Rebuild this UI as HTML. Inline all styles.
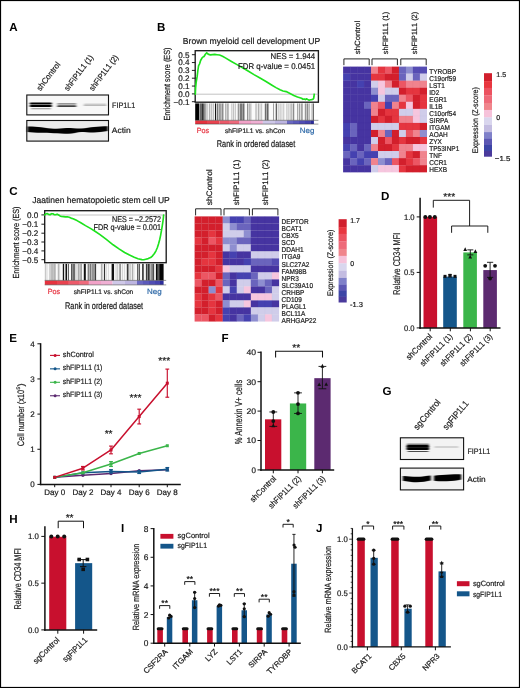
<!DOCTYPE html>
<html><head><meta charset="utf-8"><title>Figure</title>
<style>
html,body{margin:0;padding:0;background:#fff;}
svg{display:block;will-change:transform;}
text{font-family:"Liberation Sans",sans-serif;stroke-width:0.2px;text-rendering:geometricPrecision;}
</style></head>
<body>
<svg width="520" height="688" viewBox="0 0 520 688">
<rect x="0.50" y="0.50" width="519.00" height="687.00" fill="#fff" stroke="#000" stroke-width="1.2"/>
<text x="9.3" y="31.2" font-size="11.6" font-weight="bold" fill="#000">A</text>
<text x="157.0" y="31.2" font-size="11.6" font-weight="bold" fill="#000">B</text>
<text x="9.3" y="194.5" font-size="11.6" font-weight="bold" fill="#000">C</text>
<text x="380.9" y="199.89999999999998" font-size="11.6" font-weight="bold" fill="#000">D</text>
<text x="9.3" y="342.0" font-size="11.6" font-weight="bold" fill="#000">E</text>
<text x="221.5" y="342.09999999999997" font-size="11.6" font-weight="bold" fill="#000">F</text>
<text x="382.5" y="395.09999999999997" font-size="11.6" font-weight="bold" fill="#000">G</text>
<text x="9.3" y="523.1" font-size="11.6" font-weight="bold" fill="#000">H</text>
<text x="120.9" y="531.5" font-size="11.6" font-weight="bold" fill="#000">I</text>
<text x="316.09999999999997" y="531.5" font-size="11.6" font-weight="bold" fill="#000">J</text>
<rect x="343.10" y="66.60" width="7.13" height="7.19" fill="#4634a1"/>
<rect x="350.08" y="66.60" width="7.13" height="7.19" fill="#4634a1"/>
<rect x="357.06" y="66.60" width="7.13" height="7.19" fill="#4634a1"/>
<rect x="364.04" y="66.60" width="7.13" height="7.19" fill="#4634a1"/>
<rect x="371.02" y="66.60" width="7.13" height="7.19" fill="#f0838e"/>
<rect x="378.00" y="66.60" width="7.13" height="7.19" fill="#e5353f"/>
<rect x="384.98" y="66.60" width="7.13" height="7.19" fill="#ec5663"/>
<rect x="391.96" y="66.60" width="7.13" height="7.19" fill="#d31f2c"/>
<rect x="398.94" y="66.60" width="7.13" height="7.19" fill="#6a64bd"/>
<rect x="405.92" y="66.60" width="7.13" height="7.19" fill="#8e8ed0"/>
<rect x="412.90" y="66.60" width="7.13" height="7.19" fill="#554cb3"/>
<rect x="419.88" y="66.60" width="7.13" height="7.19" fill="#554cb3"/>
<rect x="343.10" y="73.64" width="7.13" height="7.19" fill="#4541b0"/>
<rect x="350.08" y="73.64" width="7.13" height="7.19" fill="#4634a1"/>
<rect x="357.06" y="73.64" width="7.13" height="7.19" fill="#4634a1"/>
<rect x="364.04" y="73.64" width="7.13" height="7.19" fill="#4634a1"/>
<rect x="371.02" y="73.64" width="7.13" height="7.19" fill="#e5353f"/>
<rect x="378.00" y="73.64" width="7.13" height="7.19" fill="#e5353f"/>
<rect x="384.98" y="73.64" width="7.13" height="7.19" fill="#d31f2c"/>
<rect x="391.96" y="73.64" width="7.13" height="7.19" fill="#d31f2c"/>
<rect x="398.94" y="73.64" width="7.13" height="7.19" fill="#6a64bd"/>
<rect x="405.92" y="73.64" width="7.13" height="7.19" fill="#d0cdea"/>
<rect x="412.90" y="73.64" width="7.13" height="7.19" fill="#6a64bd"/>
<rect x="419.88" y="73.64" width="7.13" height="7.19" fill="#d0cdea"/>
<rect x="343.10" y="80.68" width="7.13" height="7.19" fill="#4634a1"/>
<rect x="350.08" y="80.68" width="7.13" height="7.19" fill="#4634a1"/>
<rect x="357.06" y="80.68" width="7.13" height="7.19" fill="#4541b0"/>
<rect x="364.04" y="80.68" width="7.13" height="7.19" fill="#4634a1"/>
<rect x="371.02" y="80.68" width="7.13" height="7.19" fill="#d0cdea"/>
<rect x="378.00" y="80.68" width="7.13" height="7.19" fill="#f6c6de"/>
<rect x="384.98" y="80.68" width="7.13" height="7.19" fill="#f0838e"/>
<rect x="391.96" y="80.68" width="7.13" height="7.19" fill="#d31f2c"/>
<rect x="398.94" y="80.68" width="7.13" height="7.19" fill="#ec5663"/>
<rect x="405.92" y="80.68" width="7.13" height="7.19" fill="#f0838e"/>
<rect x="412.90" y="80.68" width="7.13" height="7.19" fill="#f0838e"/>
<rect x="419.88" y="80.68" width="7.13" height="7.19" fill="#f0838e"/>
<rect x="343.10" y="87.72" width="7.13" height="7.19" fill="#4634a1"/>
<rect x="350.08" y="87.72" width="7.13" height="7.19" fill="#4634a1"/>
<rect x="357.06" y="87.72" width="7.13" height="7.19" fill="#4634a1"/>
<rect x="364.04" y="87.72" width="7.13" height="7.19" fill="#4634a1"/>
<rect x="371.02" y="87.72" width="7.13" height="7.19" fill="#8e8ed0"/>
<rect x="378.00" y="87.72" width="7.13" height="7.19" fill="#f6c6de"/>
<rect x="384.98" y="87.72" width="7.13" height="7.19" fill="#d0cdea"/>
<rect x="391.96" y="87.72" width="7.13" height="7.19" fill="#d0cdea"/>
<rect x="398.94" y="87.72" width="7.13" height="7.19" fill="#d31f2c"/>
<rect x="405.92" y="87.72" width="7.13" height="7.19" fill="#e5353f"/>
<rect x="412.90" y="87.72" width="7.13" height="7.19" fill="#e5353f"/>
<rect x="419.88" y="87.72" width="7.13" height="7.19" fill="#d31f2c"/>
<rect x="343.10" y="94.76" width="7.13" height="7.19" fill="#4634a1"/>
<rect x="350.08" y="94.76" width="7.13" height="7.19" fill="#4634a1"/>
<rect x="357.06" y="94.76" width="7.13" height="7.19" fill="#4634a1"/>
<rect x="364.04" y="94.76" width="7.13" height="7.19" fill="#4634a1"/>
<rect x="371.02" y="94.76" width="7.13" height="7.19" fill="#4541b0"/>
<rect x="378.00" y="94.76" width="7.13" height="7.19" fill="#d0cdea"/>
<rect x="384.98" y="94.76" width="7.13" height="7.19" fill="#6a64bd"/>
<rect x="391.96" y="94.76" width="7.13" height="7.19" fill="#6a64bd"/>
<rect x="398.94" y="94.76" width="7.13" height="7.19" fill="#f0838e"/>
<rect x="405.92" y="94.76" width="7.13" height="7.19" fill="#ec5663"/>
<rect x="412.90" y="94.76" width="7.13" height="7.19" fill="#d31f2c"/>
<rect x="419.88" y="94.76" width="7.13" height="7.19" fill="#e5353f"/>
<rect x="343.10" y="101.80" width="7.13" height="7.19" fill="#4634a1"/>
<rect x="350.08" y="101.80" width="7.13" height="7.19" fill="#4634a1"/>
<rect x="357.06" y="101.80" width="7.13" height="7.19" fill="#4634a1"/>
<rect x="364.04" y="101.80" width="7.13" height="7.19" fill="#6a64bd"/>
<rect x="371.02" y="101.80" width="7.13" height="7.19" fill="#f0838e"/>
<rect x="378.00" y="101.80" width="7.13" height="7.19" fill="#ec5663"/>
<rect x="384.98" y="101.80" width="7.13" height="7.19" fill="#4541b0"/>
<rect x="391.96" y="101.80" width="7.13" height="7.19" fill="#f0838e"/>
<rect x="398.94" y="101.80" width="7.13" height="7.19" fill="#e5353f"/>
<rect x="405.92" y="101.80" width="7.13" height="7.19" fill="#f6c6de"/>
<rect x="412.90" y="101.80" width="7.13" height="7.19" fill="#d31f2c"/>
<rect x="419.88" y="101.80" width="7.13" height="7.19" fill="#e5353f"/>
<rect x="343.10" y="108.84" width="7.13" height="7.19" fill="#4634a1"/>
<rect x="350.08" y="108.84" width="7.13" height="7.19" fill="#4634a1"/>
<rect x="357.06" y="108.84" width="7.13" height="7.19" fill="#4634a1"/>
<rect x="364.04" y="108.84" width="7.13" height="7.19" fill="#4634a1"/>
<rect x="371.02" y="108.84" width="7.13" height="7.19" fill="#f0838e"/>
<rect x="378.00" y="108.84" width="7.13" height="7.19" fill="#d31f2c"/>
<rect x="384.98" y="108.84" width="7.13" height="7.19" fill="#e5353f"/>
<rect x="391.96" y="108.84" width="7.13" height="7.19" fill="#e5353f"/>
<rect x="398.94" y="108.84" width="7.13" height="7.19" fill="#d0cdea"/>
<rect x="405.92" y="108.84" width="7.13" height="7.19" fill="#d0cdea"/>
<rect x="412.90" y="108.84" width="7.13" height="7.19" fill="#f6c6de"/>
<rect x="419.88" y="108.84" width="7.13" height="7.19" fill="#d0cdea"/>
<rect x="343.10" y="115.88" width="7.13" height="7.19" fill="#4634a1"/>
<rect x="350.08" y="115.88" width="7.13" height="7.19" fill="#4634a1"/>
<rect x="357.06" y="115.88" width="7.13" height="7.19" fill="#4634a1"/>
<rect x="364.04" y="115.88" width="7.13" height="7.19" fill="#4634a1"/>
<rect x="371.02" y="115.88" width="7.13" height="7.19" fill="#d31f2c"/>
<rect x="378.00" y="115.88" width="7.13" height="7.19" fill="#e5353f"/>
<rect x="384.98" y="115.88" width="7.13" height="7.19" fill="#d31f2c"/>
<rect x="391.96" y="115.88" width="7.13" height="7.19" fill="#e5353f"/>
<rect x="398.94" y="115.88" width="7.13" height="7.19" fill="#f0838e"/>
<rect x="405.92" y="115.88" width="7.13" height="7.19" fill="#f0838e"/>
<rect x="412.90" y="115.88" width="7.13" height="7.19" fill="#f6c6de"/>
<rect x="419.88" y="115.88" width="7.13" height="7.19" fill="#d0cdea"/>
<rect x="343.10" y="122.92" width="7.13" height="7.19" fill="#4541b0"/>
<rect x="350.08" y="122.92" width="7.13" height="7.19" fill="#6a64bd"/>
<rect x="357.06" y="122.92" width="7.13" height="7.19" fill="#4634a1"/>
<rect x="364.04" y="122.92" width="7.13" height="7.19" fill="#4634a1"/>
<rect x="371.02" y="122.92" width="7.13" height="7.19" fill="#d0cdea"/>
<rect x="378.00" y="122.92" width="7.13" height="7.19" fill="#d0cdea"/>
<rect x="384.98" y="122.92" width="7.13" height="7.19" fill="#d0cdea"/>
<rect x="391.96" y="122.92" width="7.13" height="7.19" fill="#d0cdea"/>
<rect x="398.94" y="122.92" width="7.13" height="7.19" fill="#e5353f"/>
<rect x="405.92" y="122.92" width="7.13" height="7.19" fill="#e5353f"/>
<rect x="412.90" y="122.92" width="7.13" height="7.19" fill="#e5353f"/>
<rect x="419.88" y="122.92" width="7.13" height="7.19" fill="#d31f2c"/>
<rect x="343.10" y="129.96" width="7.13" height="7.19" fill="#4541b0"/>
<rect x="350.08" y="129.96" width="7.13" height="7.19" fill="#6a64bd"/>
<rect x="357.06" y="129.96" width="7.13" height="7.19" fill="#4634a1"/>
<rect x="364.04" y="129.96" width="7.13" height="7.19" fill="#4634a1"/>
<rect x="371.02" y="129.96" width="7.13" height="7.19" fill="#d31f2c"/>
<rect x="378.00" y="129.96" width="7.13" height="7.19" fill="#f0838e"/>
<rect x="384.98" y="129.96" width="7.13" height="7.19" fill="#6a64bd"/>
<rect x="391.96" y="129.96" width="7.13" height="7.19" fill="#d31f2c"/>
<rect x="398.94" y="129.96" width="7.13" height="7.19" fill="#d0cdea"/>
<rect x="405.92" y="129.96" width="7.13" height="7.19" fill="#ec5663"/>
<rect x="412.90" y="129.96" width="7.13" height="7.19" fill="#f0838e"/>
<rect x="419.88" y="129.96" width="7.13" height="7.19" fill="#8e8ed0"/>
<rect x="343.10" y="137.00" width="7.13" height="7.19" fill="#4634a1"/>
<rect x="350.08" y="137.00" width="7.13" height="7.19" fill="#4634a1"/>
<rect x="357.06" y="137.00" width="7.13" height="7.19" fill="#4634a1"/>
<rect x="364.04" y="137.00" width="7.13" height="7.19" fill="#4634a1"/>
<rect x="371.02" y="137.00" width="7.13" height="7.19" fill="#d0cdea"/>
<rect x="378.00" y="137.00" width="7.13" height="7.19" fill="#d31f2c"/>
<rect x="384.98" y="137.00" width="7.13" height="7.19" fill="#ec5663"/>
<rect x="391.96" y="137.00" width="7.13" height="7.19" fill="#d31f2c"/>
<rect x="398.94" y="137.00" width="7.13" height="7.19" fill="#e5353f"/>
<rect x="405.92" y="137.00" width="7.13" height="7.19" fill="#d31f2c"/>
<rect x="412.90" y="137.00" width="7.13" height="7.19" fill="#d31f2c"/>
<rect x="419.88" y="137.00" width="7.13" height="7.19" fill="#e5353f"/>
<rect x="343.10" y="144.04" width="7.13" height="7.19" fill="#4541b0"/>
<rect x="350.08" y="144.04" width="7.13" height="7.19" fill="#6a64bd"/>
<rect x="357.06" y="144.04" width="7.13" height="7.19" fill="#4634a1"/>
<rect x="364.04" y="144.04" width="7.13" height="7.19" fill="#6a64bd"/>
<rect x="371.02" y="144.04" width="7.13" height="7.19" fill="#f0838e"/>
<rect x="378.00" y="144.04" width="7.13" height="7.19" fill="#d31f2c"/>
<rect x="384.98" y="144.04" width="7.13" height="7.19" fill="#d31f2c"/>
<rect x="391.96" y="144.04" width="7.13" height="7.19" fill="#e5353f"/>
<rect x="398.94" y="144.04" width="7.13" height="7.19" fill="#f0838e"/>
<rect x="405.92" y="144.04" width="7.13" height="7.19" fill="#f0838e"/>
<rect x="412.90" y="144.04" width="7.13" height="7.19" fill="#f6c6de"/>
<rect x="419.88" y="144.04" width="7.13" height="7.19" fill="#f6c6de"/>
<rect x="343.10" y="151.08" width="7.13" height="7.19" fill="#6a64bd"/>
<rect x="350.08" y="151.08" width="7.13" height="7.19" fill="#4541b0"/>
<rect x="357.06" y="151.08" width="7.13" height="7.19" fill="#6a64bd"/>
<rect x="364.04" y="151.08" width="7.13" height="7.19" fill="#4541b0"/>
<rect x="371.02" y="151.08" width="7.13" height="7.19" fill="#4541b0"/>
<rect x="378.00" y="151.08" width="7.13" height="7.19" fill="#d0cdea"/>
<rect x="384.98" y="151.08" width="7.13" height="7.19" fill="#d0cdea"/>
<rect x="391.96" y="151.08" width="7.13" height="7.19" fill="#d0cdea"/>
<rect x="398.94" y="151.08" width="7.13" height="7.19" fill="#f0838e"/>
<rect x="405.92" y="151.08" width="7.13" height="7.19" fill="#e5353f"/>
<rect x="412.90" y="151.08" width="7.13" height="7.19" fill="#d31f2c"/>
<rect x="419.88" y="151.08" width="7.13" height="7.19" fill="#f0838e"/>
<rect x="343.10" y="158.12" width="7.13" height="7.19" fill="#4634a1"/>
<rect x="350.08" y="158.12" width="7.13" height="7.19" fill="#6a64bd"/>
<rect x="357.06" y="158.12" width="7.13" height="7.19" fill="#4541b0"/>
<rect x="364.04" y="158.12" width="7.13" height="7.19" fill="#6a64bd"/>
<rect x="371.02" y="158.12" width="7.13" height="7.19" fill="#f0838e"/>
<rect x="378.00" y="158.12" width="7.13" height="7.19" fill="#8e8ed0"/>
<rect x="384.98" y="158.12" width="7.13" height="7.19" fill="#6a64bd"/>
<rect x="391.96" y="158.12" width="7.13" height="7.19" fill="#ec5663"/>
<rect x="398.94" y="158.12" width="7.13" height="7.19" fill="#d31f2c"/>
<rect x="405.92" y="158.12" width="7.13" height="7.19" fill="#e5353f"/>
<rect x="412.90" y="158.12" width="7.13" height="7.19" fill="#ec5663"/>
<rect x="419.88" y="158.12" width="7.13" height="7.19" fill="#f0838e"/>
<rect x="343.10" y="165.16" width="7.13" height="7.19" fill="#4634a1"/>
<rect x="350.08" y="165.16" width="7.13" height="7.19" fill="#4634a1"/>
<rect x="357.06" y="165.16" width="7.13" height="7.19" fill="#4634a1"/>
<rect x="364.04" y="165.16" width="7.13" height="7.19" fill="#4634a1"/>
<rect x="371.02" y="165.16" width="7.13" height="7.19" fill="#d0cdea"/>
<rect x="378.00" y="165.16" width="7.13" height="7.19" fill="#f6c6de"/>
<rect x="384.98" y="165.16" width="7.13" height="7.19" fill="#f6c6de"/>
<rect x="391.96" y="165.16" width="7.13" height="7.19" fill="#f6c6de"/>
<rect x="398.94" y="165.16" width="7.13" height="7.19" fill="#e5353f"/>
<rect x="405.92" y="165.16" width="7.13" height="7.19" fill="#d31f2c"/>
<rect x="412.90" y="165.16" width="7.13" height="7.19" fill="#d31f2c"/>
<rect x="419.88" y="165.16" width="7.13" height="7.19" fill="#d31f2c"/>
<line x1="350.08" y1="66.6" x2="350.08" y2="172.2" stroke="#30206a" stroke-width="0.3" opacity="0.08"/>
<line x1="357.06" y1="66.6" x2="357.06" y2="172.2" stroke="#30206a" stroke-width="0.3" opacity="0.08"/>
<line x1="364.04" y1="66.6" x2="364.04" y2="172.2" stroke="#30206a" stroke-width="0.3" opacity="0.08"/>
<line x1="371.02" y1="66.6" x2="371.02" y2="172.2" stroke="#30206a" stroke-width="0.3" opacity="0.08"/>
<line x1="378.00" y1="66.6" x2="378.00" y2="172.2" stroke="#30206a" stroke-width="0.3" opacity="0.08"/>
<line x1="384.98" y1="66.6" x2="384.98" y2="172.2" stroke="#30206a" stroke-width="0.3" opacity="0.08"/>
<line x1="391.96" y1="66.6" x2="391.96" y2="172.2" stroke="#30206a" stroke-width="0.3" opacity="0.08"/>
<line x1="398.94" y1="66.6" x2="398.94" y2="172.2" stroke="#30206a" stroke-width="0.3" opacity="0.08"/>
<line x1="405.92" y1="66.6" x2="405.92" y2="172.2" stroke="#30206a" stroke-width="0.3" opacity="0.08"/>
<line x1="412.90" y1="66.6" x2="412.90" y2="172.2" stroke="#30206a" stroke-width="0.3" opacity="0.08"/>
<line x1="419.88" y1="66.6" x2="419.88" y2="172.2" stroke="#30206a" stroke-width="0.3" opacity="0.08"/>
<line x1="343.1" y1="73.64" x2="426.86" y2="73.64" stroke="#30206a" stroke-width="0.3" opacity="0.08"/>
<line x1="343.1" y1="80.68" x2="426.86" y2="80.68" stroke="#30206a" stroke-width="0.3" opacity="0.08"/>
<line x1="343.1" y1="87.72" x2="426.86" y2="87.72" stroke="#30206a" stroke-width="0.3" opacity="0.08"/>
<line x1="343.1" y1="94.76" x2="426.86" y2="94.76" stroke="#30206a" stroke-width="0.3" opacity="0.08"/>
<line x1="343.1" y1="101.80" x2="426.86" y2="101.80" stroke="#30206a" stroke-width="0.3" opacity="0.08"/>
<line x1="343.1" y1="108.84" x2="426.86" y2="108.84" stroke="#30206a" stroke-width="0.3" opacity="0.08"/>
<line x1="343.1" y1="115.88" x2="426.86" y2="115.88" stroke="#30206a" stroke-width="0.3" opacity="0.08"/>
<line x1="343.1" y1="122.92" x2="426.86" y2="122.92" stroke="#30206a" stroke-width="0.3" opacity="0.08"/>
<line x1="343.1" y1="129.96" x2="426.86" y2="129.96" stroke="#30206a" stroke-width="0.3" opacity="0.08"/>
<line x1="343.1" y1="137.00" x2="426.86" y2="137.00" stroke="#30206a" stroke-width="0.3" opacity="0.08"/>
<line x1="343.1" y1="144.04" x2="426.86" y2="144.04" stroke="#30206a" stroke-width="0.3" opacity="0.08"/>
<line x1="343.1" y1="151.08" x2="426.86" y2="151.08" stroke="#30206a" stroke-width="0.3" opacity="0.08"/>
<line x1="343.1" y1="158.12" x2="426.86" y2="158.12" stroke="#30206a" stroke-width="0.3" opacity="0.08"/>
<line x1="343.1" y1="165.16" x2="426.86" y2="165.16" stroke="#30206a" stroke-width="0.3" opacity="0.08"/>
<path d="M343.9 65.2 V58.9 H369.2 V65.2" stroke="#111" stroke-width="0.9" fill="none"/>
<path d="M372 65.2 V58.9 H397.4 V65.2" stroke="#111" stroke-width="0.9" fill="none"/>
<path d="M400.8 65.2 V58.9 H426.2 V65.2" stroke="#111" stroke-width="0.9" fill="none"/>
<text x="429.3" y="73.6" font-size="7.1" textLength="26.7" lengthAdjust="spacingAndGlyphs" fill="#1a1a1a" stroke="#1a1a1a">TYROBP</text>
<text x="429.3" y="80.63" font-size="7.1" textLength="26.7" lengthAdjust="spacingAndGlyphs" fill="#1a1a1a" stroke="#1a1a1a">C19orf59</text>
<text x="429.3" y="87.66" font-size="7.1" textLength="15.5" lengthAdjust="spacingAndGlyphs" fill="#1a1a1a" stroke="#1a1a1a">LST1</text>
<text x="429.3" y="94.69" font-size="7.1" textLength="10.1" lengthAdjust="spacingAndGlyphs" fill="#1a1a1a" stroke="#1a1a1a">ID2</text>
<text x="429.3" y="101.72" font-size="7.1" textLength="17.7" lengthAdjust="spacingAndGlyphs" fill="#1a1a1a" stroke="#1a1a1a">EGR1</text>
<text x="429.3" y="108.75" font-size="7.1" textLength="13.4" lengthAdjust="spacingAndGlyphs" fill="#1a1a1a" stroke="#1a1a1a">IL1B</text>
<text x="429.3" y="115.78" font-size="7.1" textLength="26.7" lengthAdjust="spacingAndGlyphs" fill="#1a1a1a" stroke="#1a1a1a">C10orf54</text>
<text x="429.3" y="122.81" font-size="7.1" textLength="19.0" lengthAdjust="spacingAndGlyphs" fill="#1a1a1a" stroke="#1a1a1a">SIRPA</text>
<text x="429.3" y="129.84" font-size="7.1" textLength="20.6" lengthAdjust="spacingAndGlyphs" fill="#1a1a1a" stroke="#1a1a1a">ITGAM</text>
<text x="429.3" y="136.87" font-size="7.1" textLength="18.4" lengthAdjust="spacingAndGlyphs" fill="#1a1a1a" stroke="#1a1a1a">AOAH</text>
<text x="429.3" y="143.9" font-size="7.1" textLength="12.6" lengthAdjust="spacingAndGlyphs" fill="#1a1a1a" stroke="#1a1a1a">ZYX</text>
<text x="429.3" y="150.93" font-size="7.1" textLength="30.0" lengthAdjust="spacingAndGlyphs" fill="#1a1a1a" stroke="#1a1a1a">TP53INP1</text>
<text x="429.3" y="157.96" font-size="7.1" textLength="12.6" lengthAdjust="spacingAndGlyphs" fill="#1a1a1a" stroke="#1a1a1a">TNF</text>
<text x="429.3" y="164.99" font-size="7.1" textLength="17.7" lengthAdjust="spacingAndGlyphs" fill="#1a1a1a" stroke="#1a1a1a">CCR1</text>
<text x="429.3" y="172.02" font-size="7.1" textLength="17.7" lengthAdjust="spacingAndGlyphs" fill="#1a1a1a" stroke="#1a1a1a">HEXB</text>
<text x="360.3" y="54.2" font-size="7.6" textLength="33.4" lengthAdjust="spacingAndGlyphs" transform="rotate(-90 360.3 54.2)" fill="#1a1a1a" stroke="#1a1a1a" stroke-width="0.08">shControl</text>
<text x="388.0" y="54.2" font-size="7.6" textLength="42.3" lengthAdjust="spacingAndGlyphs" transform="rotate(-90 388.0 54.2)" fill="#1a1a1a" stroke="#1a1a1a" stroke-width="0.08">shFIP1L1 (1)</text>
<text x="416.8" y="54.2" font-size="7.6" textLength="42.3" lengthAdjust="spacingAndGlyphs" transform="rotate(-90 416.8 54.2)" fill="#1a1a1a" stroke="#1a1a1a" stroke-width="0.08">shFIP1L1 (2)</text>
<rect x="484.00" y="73.20" width="8.00" height="8.11" fill="#d11f2d"/>
<rect x="484.00" y="81.11" width="8.00" height="6.95" fill="#e8363f"/>
<rect x="484.00" y="87.86" width="8.00" height="7.70" fill="#ec5260"/>
<rect x="484.00" y="95.36" width="8.00" height="7.78" fill="#ee6a79"/>
<rect x="484.00" y="102.94" width="8.00" height="7.20" fill="#f0858c"/>
<rect x="484.00" y="109.94" width="8.00" height="7.70" fill="#f6c2da"/>
<rect x="484.00" y="117.43" width="8.00" height="7.78" fill="#d9d6ee"/>
<rect x="484.00" y="125.01" width="8.00" height="7.28" fill="#c3bce1"/>
<rect x="484.00" y="132.09" width="8.00" height="6.95" fill="#7f80c9"/>
<rect x="484.00" y="138.84" width="8.00" height="6.36" fill="#5c57b3"/>
<rect x="484.00" y="145.00" width="8.00" height="6.11" fill="#3c45a6"/>
<rect x="484.00" y="150.92" width="8.00" height="5.78" fill="#4a3a9c"/>
<text x="496.3" y="76.9" font-size="7" fill="#1a1a1a" stroke="#1a1a1a">1.5</text>
<text x="496.3" y="119.8" font-size="7" fill="#1a1a1a" stroke="#1a1a1a">0</text>
<text x="494.8" y="160.8" font-size="7.2" textLength="15.6" lengthAdjust="spacingAndGlyphs" fill="#1a1a1a" stroke="#1a1a1a">−1.5</text>
<text x="478.1" y="153.3" font-size="8.1" textLength="66.2" lengthAdjust="spacingAndGlyphs" transform="rotate(-90 478.1 153.3)" fill="#161616" stroke="#161616" stroke-width="0.1">Expression (Z-score)</text>
<rect x="194.60" y="216.40" width="7.18" height="7.15" fill="#d31f2c"/>
<rect x="201.63" y="216.40" width="7.18" height="7.15" fill="#d31f2c"/>
<rect x="208.66" y="216.40" width="7.18" height="7.15" fill="#d31f2c"/>
<rect x="215.69" y="216.40" width="7.18" height="7.15" fill="#d31f2c"/>
<rect x="222.72" y="216.40" width="7.18" height="7.15" fill="#8e8ed0"/>
<rect x="229.75" y="216.40" width="7.18" height="7.15" fill="#4541b0"/>
<rect x="236.78" y="216.40" width="7.18" height="7.15" fill="#4541b0"/>
<rect x="243.81" y="216.40" width="7.18" height="7.15" fill="#6a64bd"/>
<rect x="250.84" y="216.40" width="7.18" height="7.15" fill="#4634a1"/>
<rect x="257.87" y="216.40" width="7.18" height="7.15" fill="#4634a1"/>
<rect x="264.90" y="216.40" width="7.18" height="7.15" fill="#4634a1"/>
<rect x="271.93" y="216.40" width="7.18" height="7.15" fill="#4634a1"/>
<rect x="194.60" y="223.40" width="7.18" height="7.15" fill="#d31f2c"/>
<rect x="201.63" y="223.40" width="7.18" height="7.15" fill="#d31f2c"/>
<rect x="208.66" y="223.40" width="7.18" height="7.15" fill="#d31f2c"/>
<rect x="215.69" y="223.40" width="7.18" height="7.15" fill="#d31f2c"/>
<rect x="222.72" y="223.40" width="7.18" height="7.15" fill="#d0cdea"/>
<rect x="229.75" y="223.40" width="7.18" height="7.15" fill="#8e8ed0"/>
<rect x="236.78" y="223.40" width="7.18" height="7.15" fill="#6a64bd"/>
<rect x="243.81" y="223.40" width="7.18" height="7.15" fill="#6a64bd"/>
<rect x="250.84" y="223.40" width="7.18" height="7.15" fill="#4634a1"/>
<rect x="257.87" y="223.40" width="7.18" height="7.15" fill="#4634a1"/>
<rect x="264.90" y="223.40" width="7.18" height="7.15" fill="#4634a1"/>
<rect x="271.93" y="223.40" width="7.18" height="7.15" fill="#4634a1"/>
<rect x="194.60" y="230.40" width="7.18" height="7.15" fill="#d31f2c"/>
<rect x="201.63" y="230.40" width="7.18" height="7.15" fill="#d31f2c"/>
<rect x="208.66" y="230.40" width="7.18" height="7.15" fill="#e5353f"/>
<rect x="215.69" y="230.40" width="7.18" height="7.15" fill="#d31f2c"/>
<rect x="222.72" y="230.40" width="7.18" height="7.15" fill="#d0cdea"/>
<rect x="229.75" y="230.40" width="7.18" height="7.15" fill="#d0cdea"/>
<rect x="236.78" y="230.40" width="7.18" height="7.15" fill="#d0cdea"/>
<rect x="243.81" y="230.40" width="7.18" height="7.15" fill="#8e8ed0"/>
<rect x="250.84" y="230.40" width="7.18" height="7.15" fill="#4634a1"/>
<rect x="257.87" y="230.40" width="7.18" height="7.15" fill="#4634a1"/>
<rect x="264.90" y="230.40" width="7.18" height="7.15" fill="#4634a1"/>
<rect x="271.93" y="230.40" width="7.18" height="7.15" fill="#4634a1"/>
<rect x="194.60" y="237.40" width="7.18" height="7.15" fill="#e5353f"/>
<rect x="201.63" y="237.40" width="7.18" height="7.15" fill="#d31f2c"/>
<rect x="208.66" y="237.40" width="7.18" height="7.15" fill="#ec5663"/>
<rect x="215.69" y="237.40" width="7.18" height="7.15" fill="#e5353f"/>
<rect x="222.72" y="237.40" width="7.18" height="7.15" fill="#8e8ed0"/>
<rect x="229.75" y="237.40" width="7.18" height="7.15" fill="#8e8ed0"/>
<rect x="236.78" y="237.40" width="7.18" height="7.15" fill="#6a64bd"/>
<rect x="243.81" y="237.40" width="7.18" height="7.15" fill="#6a64bd"/>
<rect x="250.84" y="237.40" width="7.18" height="7.15" fill="#4634a1"/>
<rect x="257.87" y="237.40" width="7.18" height="7.15" fill="#4634a1"/>
<rect x="264.90" y="237.40" width="7.18" height="7.15" fill="#4634a1"/>
<rect x="271.93" y="237.40" width="7.18" height="7.15" fill="#4634a1"/>
<rect x="194.60" y="244.40" width="7.18" height="7.15" fill="#d31f2c"/>
<rect x="201.63" y="244.40" width="7.18" height="7.15" fill="#d31f2c"/>
<rect x="208.66" y="244.40" width="7.18" height="7.15" fill="#d31f2c"/>
<rect x="215.69" y="244.40" width="7.18" height="7.15" fill="#d31f2c"/>
<rect x="222.72" y="244.40" width="7.18" height="7.15" fill="#d0cdea"/>
<rect x="229.75" y="244.40" width="7.18" height="7.15" fill="#8e8ed0"/>
<rect x="236.78" y="244.40" width="7.18" height="7.15" fill="#d0cdea"/>
<rect x="243.81" y="244.40" width="7.18" height="7.15" fill="#d0cdea"/>
<rect x="250.84" y="244.40" width="7.18" height="7.15" fill="#4634a1"/>
<rect x="257.87" y="244.40" width="7.18" height="7.15" fill="#4634a1"/>
<rect x="264.90" y="244.40" width="7.18" height="7.15" fill="#4634a1"/>
<rect x="271.93" y="244.40" width="7.18" height="7.15" fill="#4634a1"/>
<rect x="194.60" y="251.40" width="7.18" height="7.15" fill="#d31f2c"/>
<rect x="201.63" y="251.40" width="7.18" height="7.15" fill="#d31f2c"/>
<rect x="208.66" y="251.40" width="7.18" height="7.15" fill="#e5353f"/>
<rect x="215.69" y="251.40" width="7.18" height="7.15" fill="#d31f2c"/>
<rect x="222.72" y="251.40" width="7.18" height="7.15" fill="#4634a1"/>
<rect x="229.75" y="251.40" width="7.18" height="7.15" fill="#4541b0"/>
<rect x="236.78" y="251.40" width="7.18" height="7.15" fill="#4634a1"/>
<rect x="243.81" y="251.40" width="7.18" height="7.15" fill="#4634a1"/>
<rect x="250.84" y="251.40" width="7.18" height="7.15" fill="#d0cdea"/>
<rect x="257.87" y="251.40" width="7.18" height="7.15" fill="#d0cdea"/>
<rect x="264.90" y="251.40" width="7.18" height="7.15" fill="#d0cdea"/>
<rect x="271.93" y="251.40" width="7.18" height="7.15" fill="#d0cdea"/>
<rect x="194.60" y="258.40" width="7.18" height="7.15" fill="#d31f2c"/>
<rect x="201.63" y="258.40" width="7.18" height="7.15" fill="#e5353f"/>
<rect x="208.66" y="258.40" width="7.18" height="7.15" fill="#e5353f"/>
<rect x="215.69" y="258.40" width="7.18" height="7.15" fill="#d31f2c"/>
<rect x="222.72" y="258.40" width="7.18" height="7.15" fill="#4634a1"/>
<rect x="229.75" y="258.40" width="7.18" height="7.15" fill="#4634a1"/>
<rect x="236.78" y="258.40" width="7.18" height="7.15" fill="#4634a1"/>
<rect x="243.81" y="258.40" width="7.18" height="7.15" fill="#4541b0"/>
<rect x="250.84" y="258.40" width="7.18" height="7.15" fill="#6a64bd"/>
<rect x="257.87" y="258.40" width="7.18" height="7.15" fill="#6a64bd"/>
<rect x="264.90" y="258.40" width="7.18" height="7.15" fill="#6a64bd"/>
<rect x="271.93" y="258.40" width="7.18" height="7.15" fill="#554cb3"/>
<rect x="194.60" y="265.40" width="7.18" height="7.15" fill="#d31f2c"/>
<rect x="201.63" y="265.40" width="7.18" height="7.15" fill="#d31f2c"/>
<rect x="208.66" y="265.40" width="7.18" height="7.15" fill="#d31f2c"/>
<rect x="215.69" y="265.40" width="7.18" height="7.15" fill="#e5353f"/>
<rect x="222.72" y="265.40" width="7.18" height="7.15" fill="#f6c6de"/>
<rect x="229.75" y="265.40" width="7.18" height="7.15" fill="#d0cdea"/>
<rect x="236.78" y="265.40" width="7.18" height="7.15" fill="#d0cdea"/>
<rect x="243.81" y="265.40" width="7.18" height="7.15" fill="#d0cdea"/>
<rect x="250.84" y="265.40" width="7.18" height="7.15" fill="#4634a1"/>
<rect x="257.87" y="265.40" width="7.18" height="7.15" fill="#4634a1"/>
<rect x="264.90" y="265.40" width="7.18" height="7.15" fill="#4634a1"/>
<rect x="271.93" y="265.40" width="7.18" height="7.15" fill="#4634a1"/>
<rect x="194.60" y="272.40" width="7.18" height="7.15" fill="#e5353f"/>
<rect x="201.63" y="272.40" width="7.18" height="7.15" fill="#ec5663"/>
<rect x="208.66" y="272.40" width="7.18" height="7.15" fill="#ec5663"/>
<rect x="215.69" y="272.40" width="7.18" height="7.15" fill="#d31f2c"/>
<rect x="222.72" y="272.40" width="7.18" height="7.15" fill="#6a64bd"/>
<rect x="229.75" y="272.40" width="7.18" height="7.15" fill="#4634a1"/>
<rect x="236.78" y="272.40" width="7.18" height="7.15" fill="#4541b0"/>
<rect x="243.81" y="272.40" width="7.18" height="7.15" fill="#4541b0"/>
<rect x="250.84" y="272.40" width="7.18" height="7.15" fill="#6a64bd"/>
<rect x="257.87" y="272.40" width="7.18" height="7.15" fill="#d0cdea"/>
<rect x="264.90" y="272.40" width="7.18" height="7.15" fill="#d0cdea"/>
<rect x="271.93" y="272.40" width="7.18" height="7.15" fill="#f6c6de"/>
<rect x="194.60" y="279.40" width="7.18" height="7.15" fill="#ec5663"/>
<rect x="201.63" y="279.40" width="7.18" height="7.15" fill="#d31f2c"/>
<rect x="208.66" y="279.40" width="7.18" height="7.15" fill="#d31f2c"/>
<rect x="215.69" y="279.40" width="7.18" height="7.15" fill="#ec5663"/>
<rect x="222.72" y="279.40" width="7.18" height="7.15" fill="#6a64bd"/>
<rect x="229.75" y="279.40" width="7.18" height="7.15" fill="#4634a1"/>
<rect x="236.78" y="279.40" width="7.18" height="7.15" fill="#d0cdea"/>
<rect x="243.81" y="279.40" width="7.18" height="7.15" fill="#d0cdea"/>
<rect x="250.84" y="279.40" width="7.18" height="7.15" fill="#6a64bd"/>
<rect x="257.87" y="279.40" width="7.18" height="7.15" fill="#8e8ed0"/>
<rect x="264.90" y="279.40" width="7.18" height="7.15" fill="#6a64bd"/>
<rect x="271.93" y="279.40" width="7.18" height="7.15" fill="#4634a1"/>
<rect x="194.60" y="286.40" width="7.18" height="7.15" fill="#d31f2c"/>
<rect x="201.63" y="286.40" width="7.18" height="7.15" fill="#d31f2c"/>
<rect x="208.66" y="286.40" width="7.18" height="7.15" fill="#8e8ed0"/>
<rect x="215.69" y="286.40" width="7.18" height="7.15" fill="#e5353f"/>
<rect x="222.72" y="286.40" width="7.18" height="7.15" fill="#d0cdea"/>
<rect x="229.75" y="286.40" width="7.18" height="7.15" fill="#4541b0"/>
<rect x="236.78" y="286.40" width="7.18" height="7.15" fill="#d0cdea"/>
<rect x="243.81" y="286.40" width="7.18" height="7.15" fill="#f6c6de"/>
<rect x="250.84" y="286.40" width="7.18" height="7.15" fill="#4634a1"/>
<rect x="257.87" y="286.40" width="7.18" height="7.15" fill="#4634a1"/>
<rect x="264.90" y="286.40" width="7.18" height="7.15" fill="#6a64bd"/>
<rect x="271.93" y="286.40" width="7.18" height="7.15" fill="#d0cdea"/>
<rect x="194.60" y="293.40" width="7.18" height="7.15" fill="#e5353f"/>
<rect x="201.63" y="293.40" width="7.18" height="7.15" fill="#d31f2c"/>
<rect x="208.66" y="293.40" width="7.18" height="7.15" fill="#e5353f"/>
<rect x="215.69" y="293.40" width="7.18" height="7.15" fill="#ec5663"/>
<rect x="222.72" y="293.40" width="7.18" height="7.15" fill="#4634a1"/>
<rect x="229.75" y="293.40" width="7.18" height="7.15" fill="#4634a1"/>
<rect x="236.78" y="293.40" width="7.18" height="7.15" fill="#4634a1"/>
<rect x="243.81" y="293.40" width="7.18" height="7.15" fill="#4634a1"/>
<rect x="250.84" y="293.40" width="7.18" height="7.15" fill="#f6c6de"/>
<rect x="257.87" y="293.40" width="7.18" height="7.15" fill="#f6c6de"/>
<rect x="264.90" y="293.40" width="7.18" height="7.15" fill="#f6c6de"/>
<rect x="271.93" y="293.40" width="7.18" height="7.15" fill="#d0cdea"/>
<rect x="194.60" y="300.40" width="7.18" height="7.15" fill="#e5353f"/>
<rect x="201.63" y="300.40" width="7.18" height="7.15" fill="#d31f2c"/>
<rect x="208.66" y="300.40" width="7.18" height="7.15" fill="#e5353f"/>
<rect x="215.69" y="300.40" width="7.18" height="7.15" fill="#d31f2c"/>
<rect x="222.72" y="300.40" width="7.18" height="7.15" fill="#8e8ed0"/>
<rect x="229.75" y="300.40" width="7.18" height="7.15" fill="#d0cdea"/>
<rect x="236.78" y="300.40" width="7.18" height="7.15" fill="#d0cdea"/>
<rect x="243.81" y="300.40" width="7.18" height="7.15" fill="#f6c6de"/>
<rect x="250.84" y="300.40" width="7.18" height="7.15" fill="#4634a1"/>
<rect x="257.87" y="300.40" width="7.18" height="7.15" fill="#4541b0"/>
<rect x="264.90" y="300.40" width="7.18" height="7.15" fill="#4541b0"/>
<rect x="271.93" y="300.40" width="7.18" height="7.15" fill="#4634a1"/>
<rect x="194.60" y="307.40" width="7.18" height="7.15" fill="#d31f2c"/>
<rect x="201.63" y="307.40" width="7.18" height="7.15" fill="#d31f2c"/>
<rect x="208.66" y="307.40" width="7.18" height="7.15" fill="#e5353f"/>
<rect x="215.69" y="307.40" width="7.18" height="7.15" fill="#d31f2c"/>
<rect x="222.72" y="307.40" width="7.18" height="7.15" fill="#4541b0"/>
<rect x="229.75" y="307.40" width="7.18" height="7.15" fill="#4634a1"/>
<rect x="236.78" y="307.40" width="7.18" height="7.15" fill="#4634a1"/>
<rect x="243.81" y="307.40" width="7.18" height="7.15" fill="#4634a1"/>
<rect x="250.84" y="307.40" width="7.18" height="7.15" fill="#d0cdea"/>
<rect x="257.87" y="307.40" width="7.18" height="7.15" fill="#d0cdea"/>
<rect x="264.90" y="307.40" width="7.18" height="7.15" fill="#d0cdea"/>
<rect x="271.93" y="307.40" width="7.18" height="7.15" fill="#d0cdea"/>
<rect x="194.60" y="314.40" width="7.18" height="7.15" fill="#ec5663"/>
<rect x="201.63" y="314.40" width="7.18" height="7.15" fill="#ec5663"/>
<rect x="208.66" y="314.40" width="7.18" height="7.15" fill="#d31f2c"/>
<rect x="215.69" y="314.40" width="7.18" height="7.15" fill="#e5353f"/>
<rect x="222.72" y="314.40" width="7.18" height="7.15" fill="#4541b0"/>
<rect x="229.75" y="314.40" width="7.18" height="7.15" fill="#4634a1"/>
<rect x="236.78" y="314.40" width="7.18" height="7.15" fill="#6a64bd"/>
<rect x="243.81" y="314.40" width="7.18" height="7.15" fill="#4541b0"/>
<rect x="250.84" y="314.40" width="7.18" height="7.15" fill="#8e8ed0"/>
<rect x="257.87" y="314.40" width="7.18" height="7.15" fill="#d0cdea"/>
<rect x="264.90" y="314.40" width="7.18" height="7.15" fill="#f6c6de"/>
<rect x="271.93" y="314.40" width="7.18" height="7.15" fill="#d0cdea"/>
<line x1="201.63" y1="216.4" x2="201.63" y2="321.4" stroke="#30206a" stroke-width="0.3" opacity="0.08"/>
<line x1="208.66" y1="216.4" x2="208.66" y2="321.4" stroke="#30206a" stroke-width="0.3" opacity="0.08"/>
<line x1="215.69" y1="216.4" x2="215.69" y2="321.4" stroke="#30206a" stroke-width="0.3" opacity="0.08"/>
<line x1="222.72" y1="216.4" x2="222.72" y2="321.4" stroke="#30206a" stroke-width="0.3" opacity="0.08"/>
<line x1="229.75" y1="216.4" x2="229.75" y2="321.4" stroke="#30206a" stroke-width="0.3" opacity="0.08"/>
<line x1="236.78" y1="216.4" x2="236.78" y2="321.4" stroke="#30206a" stroke-width="0.3" opacity="0.08"/>
<line x1="243.81" y1="216.4" x2="243.81" y2="321.4" stroke="#30206a" stroke-width="0.3" opacity="0.08"/>
<line x1="250.84" y1="216.4" x2="250.84" y2="321.4" stroke="#30206a" stroke-width="0.3" opacity="0.08"/>
<line x1="257.87" y1="216.4" x2="257.87" y2="321.4" stroke="#30206a" stroke-width="0.3" opacity="0.08"/>
<line x1="264.90" y1="216.4" x2="264.90" y2="321.4" stroke="#30206a" stroke-width="0.3" opacity="0.08"/>
<line x1="271.93" y1="216.4" x2="271.93" y2="321.4" stroke="#30206a" stroke-width="0.3" opacity="0.08"/>
<line x1="194.6" y1="223.40" x2="278.96" y2="223.40" stroke="#30206a" stroke-width="0.3" opacity="0.08"/>
<line x1="194.6" y1="230.40" x2="278.96" y2="230.40" stroke="#30206a" stroke-width="0.3" opacity="0.08"/>
<line x1="194.6" y1="237.40" x2="278.96" y2="237.40" stroke="#30206a" stroke-width="0.3" opacity="0.08"/>
<line x1="194.6" y1="244.40" x2="278.96" y2="244.40" stroke="#30206a" stroke-width="0.3" opacity="0.08"/>
<line x1="194.6" y1="251.40" x2="278.96" y2="251.40" stroke="#30206a" stroke-width="0.3" opacity="0.08"/>
<line x1="194.6" y1="258.40" x2="278.96" y2="258.40" stroke="#30206a" stroke-width="0.3" opacity="0.08"/>
<line x1="194.6" y1="265.40" x2="278.96" y2="265.40" stroke="#30206a" stroke-width="0.3" opacity="0.08"/>
<line x1="194.6" y1="272.40" x2="278.96" y2="272.40" stroke="#30206a" stroke-width="0.3" opacity="0.08"/>
<line x1="194.6" y1="279.40" x2="278.96" y2="279.40" stroke="#30206a" stroke-width="0.3" opacity="0.08"/>
<line x1="194.6" y1="286.40" x2="278.96" y2="286.40" stroke="#30206a" stroke-width="0.3" opacity="0.08"/>
<line x1="194.6" y1="293.40" x2="278.96" y2="293.40" stroke="#30206a" stroke-width="0.3" opacity="0.08"/>
<line x1="194.6" y1="300.40" x2="278.96" y2="300.40" stroke="#30206a" stroke-width="0.3" opacity="0.08"/>
<line x1="194.6" y1="307.40" x2="278.96" y2="307.40" stroke="#30206a" stroke-width="0.3" opacity="0.08"/>
<line x1="194.6" y1="314.40" x2="278.96" y2="314.40" stroke="#30206a" stroke-width="0.3" opacity="0.08"/>
<path d="M195.6 215.4 V208.8 H221 V215.4" stroke="#111" stroke-width="0.9" fill="none"/>
<path d="M224 215.4 V208.8 H249.4 V215.4" stroke="#111" stroke-width="0.9" fill="none"/>
<path d="M252.4 215.4 V208.8 H277.9 V215.4" stroke="#111" stroke-width="0.9" fill="none"/>
<text x="281.6" y="224.0" font-size="7.1" textLength="27.0" lengthAdjust="spacingAndGlyphs" fill="#1a1a1a" stroke="#1a1a1a">DEPTOR</text>
<text x="281.6" y="231.09" font-size="7.1" textLength="20.5" lengthAdjust="spacingAndGlyphs" fill="#1a1a1a" stroke="#1a1a1a">BCAT1</text>
<text x="281.6" y="238.18" font-size="7.1" textLength="17.0" lengthAdjust="spacingAndGlyphs" fill="#1a1a1a" stroke="#1a1a1a">CBX5</text>
<text x="281.6" y="245.27" font-size="7.1" textLength="13.7" lengthAdjust="spacingAndGlyphs" fill="#1a1a1a" stroke="#1a1a1a">SCD</text>
<text x="281.6" y="252.36" font-size="7.1" textLength="22.0" lengthAdjust="spacingAndGlyphs" fill="#1a1a1a" stroke="#1a1a1a">DDAH1</text>
<text x="281.6" y="259.45" font-size="7.1" textLength="18.8" lengthAdjust="spacingAndGlyphs" fill="#1a1a1a" stroke="#1a1a1a">ITGA9</text>
<text x="281.6" y="266.54" font-size="7.1" textLength="27.8" lengthAdjust="spacingAndGlyphs" fill="#1a1a1a" stroke="#1a1a1a">SLC27A2</text>
<text x="281.6" y="273.63" font-size="7.1" textLength="24.9" lengthAdjust="spacingAndGlyphs" fill="#1a1a1a" stroke="#1a1a1a">FAM98B</text>
<text x="281.6" y="280.72" font-size="7.1" textLength="17.3" lengthAdjust="spacingAndGlyphs" fill="#1a1a1a" stroke="#1a1a1a">NPR3</text>
<text x="281.6" y="287.81" font-size="7.1" textLength="31.4" lengthAdjust="spacingAndGlyphs" fill="#1a1a1a" stroke="#1a1a1a">SLC39A10</text>
<text x="281.6" y="294.9" font-size="7.1" textLength="22.7" lengthAdjust="spacingAndGlyphs" fill="#1a1a1a" stroke="#1a1a1a">CRHBP</text>
<text x="281.6" y="301.99" font-size="7.1" textLength="20.2" lengthAdjust="spacingAndGlyphs" fill="#1a1a1a" stroke="#1a1a1a">CD109</text>
<text x="281.6" y="309.08" font-size="7.1" textLength="24.6" lengthAdjust="spacingAndGlyphs" fill="#1a1a1a" stroke="#1a1a1a">PLAGL1</text>
<text x="281.6" y="316.17" font-size="7.1" textLength="23.7" lengthAdjust="spacingAndGlyphs" fill="#1a1a1a" stroke="#1a1a1a">BCL11A</text>
<text x="281.6" y="323.26" font-size="7.1" textLength="34.7" lengthAdjust="spacingAndGlyphs" fill="#1a1a1a" stroke="#1a1a1a">ARHGAP22</text>
<text x="211.6" y="205.3" font-size="8.0" textLength="36.0" lengthAdjust="spacingAndGlyphs" transform="rotate(-90 211.6 205.3)" fill="#1a1a1a" stroke="#1a1a1a" stroke-width="0.08">shControl</text>
<text x="239.5" y="205.3" font-size="8.0" textLength="45.6" lengthAdjust="spacingAndGlyphs" transform="rotate(-90 239.5 205.3)" fill="#1a1a1a" stroke="#1a1a1a" stroke-width="0.08">shFIP1L1 (1)</text>
<text x="268.0" y="205.3" font-size="8.0" textLength="45.6" lengthAdjust="spacingAndGlyphs" transform="rotate(-90 268.0 205.3)" fill="#1a1a1a" stroke="#1a1a1a" stroke-width="0.08">shFIP1L1 (2)</text>
<rect x="338.60" y="219.20" width="8.10" height="8.09" fill="#d11f2d"/>
<rect x="338.60" y="227.09" width="8.10" height="6.93" fill="#e8363f"/>
<rect x="338.60" y="233.83" width="8.10" height="7.68" fill="#ec5260"/>
<rect x="338.60" y="241.30" width="8.10" height="7.76" fill="#ee6a79"/>
<rect x="338.60" y="248.87" width="8.10" height="7.18" fill="#f0858c"/>
<rect x="338.60" y="255.85" width="8.10" height="7.68" fill="#f6c2da"/>
<rect x="338.60" y="263.33" width="8.10" height="7.76" fill="#d9d6ee"/>
<rect x="338.60" y="270.89" width="8.10" height="7.26" fill="#c3bce1"/>
<rect x="338.60" y="277.95" width="8.10" height="6.93" fill="#7f80c9"/>
<rect x="338.60" y="284.68" width="8.10" height="6.35" fill="#5c57b3"/>
<rect x="338.60" y="290.83" width="8.10" height="6.10" fill="#3c45a6"/>
<rect x="338.60" y="296.73" width="8.10" height="5.77" fill="#4a3a9c"/>
<text x="350.2" y="223.3" font-size="7" fill="#1a1a1a" stroke="#1a1a1a">1.7</text>
<text x="350.2" y="266" font-size="7" fill="#1a1a1a" stroke="#1a1a1a">0</text>
<text x="350.0" y="306.6" font-size="7.2" textLength="13" lengthAdjust="spacingAndGlyphs" fill="#1a1a1a" stroke="#1a1a1a">-1.3</text>
<text x="333.1" y="296.0" font-size="8.1" textLength="66.4" lengthAdjust="spacingAndGlyphs" transform="rotate(-90 333.1 296.0)" fill="#161616" stroke="#161616" stroke-width="0.1">Expression (Z-score)</text>
<rect x="195.20" y="103.40" width="4.00" height="17.00" fill="rgb(0,0,0)"/>
<rect x="199.20" y="103.40" width="0.50" height="17.00" fill="rgb(215,215,215)"/>
<rect x="199.70" y="103.40" width="0.90" height="17.00" fill="rgb(40,40,40)"/>
<rect x="200.60" y="103.40" width="1.00" height="17.00" fill="rgb(70,70,70)"/>
<rect x="201.60" y="103.40" width="1.40" height="17.00" fill="rgb(50,50,50)"/>
<rect x="203.00" y="103.40" width="1.20" height="17.00" fill="rgb(95,95,95)"/>
<rect x="204.20" y="103.40" width="1.20" height="17.00" fill="rgb(120,120,120)"/>
<rect x="205.40" y="103.40" width="1.20" height="17.00" fill="rgb(140,140,140)"/>
<rect x="206.60" y="103.40" width="1.00" height="17.00" fill="rgb(240,240,240)"/>
<rect x="207.60" y="103.40" width="0.60" height="17.00" fill="rgb(150,150,150)"/>
<rect x="208.20" y="103.40" width="0.90" height="17.00" fill="rgb(245,245,245)"/>
<rect x="209.10" y="103.40" width="1.30" height="17.00" fill="rgb(170,170,170)"/>
<rect x="210.40" y="103.40" width="0.80" height="17.00" fill="rgb(225,225,225)"/>
<rect x="211.20" y="103.40" width="1.20" height="17.00" fill="rgb(180,180,180)"/>
<rect x="212.40" y="103.40" width="0.60" height="17.00" fill="rgb(230,230,230)"/>
<rect x="213.00" y="103.40" width="1.20" height="17.00" fill="rgb(190,190,190)"/>
<rect x="214.20" y="103.40" width="0.80" height="17.00" fill="rgb(240,240,240)"/>
<rect x="215.00" y="103.40" width="1.10" height="17.00" fill="rgb(20,20,20)"/>
<rect x="216.10" y="103.40" width="0.70" height="17.00" fill="rgb(230,230,230)"/>
<rect x="216.80" y="103.40" width="1.60" height="17.00" fill="rgb(120,120,120)"/>
<rect x="218.40" y="103.40" width="0.80" height="17.00" fill="rgb(190,190,190)"/>
<rect x="219.20" y="103.40" width="1.60" height="17.00" fill="rgb(130,130,130)"/>
<rect x="220.80" y="103.40" width="0.80" height="17.00" fill="rgb(200,200,200)"/>
<rect x="221.60" y="103.40" width="2.10" height="17.00" fill="rgb(140,140,140)"/>
<rect x="223.70" y="103.40" width="1.60" height="17.00" fill="rgb(250,250,250)"/>
<rect x="225.30" y="103.40" width="1.20" height="17.00" fill="rgb(150,150,150)"/>
<rect x="226.50" y="103.40" width="0.70" height="17.00" fill="rgb(220,220,220)"/>
<rect x="227.20" y="103.40" width="1.60" height="17.00" fill="rgb(160,160,160)"/>
<rect x="228.80" y="103.40" width="2.60" height="17.00" fill="rgb(250,250,250)"/>
<rect x="231.40" y="103.40" width="1.10" height="17.00" fill="rgb(185,185,185)"/>
<rect x="232.50" y="103.40" width="0.70" height="17.00" fill="rgb(235,235,235)"/>
<rect x="233.20" y="103.40" width="1.10" height="17.00" fill="rgb(180,180,180)"/>
<rect x="234.30" y="103.40" width="0.70" height="17.00" fill="rgb(235,235,235)"/>
<rect x="235.00" y="103.40" width="0.90" height="17.00" fill="rgb(190,190,190)"/>
<rect x="235.90" y="103.40" width="1.80" height="17.00" fill="rgb(250,250,250)"/>
<rect x="237.70" y="103.40" width="1.50" height="17.00" fill="rgb(150,150,150)"/>
<rect x="239.20" y="103.40" width="0.80" height="17.00" fill="rgb(190,190,190)"/>
<rect x="240.00" y="103.40" width="2.00" height="17.00" fill="rgb(120,120,120)"/>
<rect x="242.00" y="103.40" width="1.00" height="17.00" fill="rgb(160,160,160)"/>
<rect x="243.00" y="103.40" width="1.70" height="17.00" fill="rgb(110,110,110)"/>
<rect x="244.70" y="103.40" width="2.50" height="17.00" fill="rgb(250,250,250)"/>
<rect x="247.20" y="103.40" width="0.80" height="17.00" fill="rgb(120,120,120)"/>
<rect x="248.00" y="103.40" width="0.80" height="17.00" fill="rgb(225,225,225)"/>
<rect x="248.80" y="103.40" width="1.00" height="17.00" fill="rgb(150,150,150)"/>
<rect x="249.80" y="103.40" width="0.60" height="17.00" fill="rgb(230,230,230)"/>
<rect x="250.40" y="103.40" width="1.20" height="17.00" fill="rgb(170,170,170)"/>
<rect x="251.60" y="103.40" width="3.80" height="17.00" fill="rgb(250,250,250)"/>
<rect x="255.40" y="103.40" width="1.10" height="17.00" fill="rgb(180,180,180)"/>
<rect x="256.50" y="103.40" width="0.80" height="17.00" fill="rgb(190,190,190)"/>
<rect x="257.30" y="103.40" width="0.70" height="17.00" fill="rgb(235,235,235)"/>
<rect x="258.00" y="103.40" width="1.00" height="17.00" fill="rgb(175,175,175)"/>
<rect x="259.00" y="103.40" width="0.60" height="17.00" fill="rgb(235,235,235)"/>
<rect x="259.60" y="103.40" width="1.00" height="17.00" fill="rgb(185,185,185)"/>
<rect x="260.60" y="103.40" width="0.70" height="17.00" fill="rgb(235,235,235)"/>
<rect x="261.30" y="103.40" width="1.10" height="17.00" fill="rgb(180,180,180)"/>
<rect x="262.40" y="103.40" width="2.40" height="17.00" fill="rgb(250,250,250)"/>
<rect x="264.80" y="103.40" width="1.40" height="17.00" fill="rgb(110,110,110)"/>
<rect x="266.20" y="103.40" width="0.80" height="17.00" fill="rgb(160,160,160)"/>
<rect x="267.00" y="103.40" width="1.40" height="17.00" fill="rgb(100,100,100)"/>
<rect x="268.40" y="103.40" width="0.80" height="17.00" fill="rgb(150,150,150)"/>
<rect x="269.20" y="103.40" width="3.80" height="17.00" fill="rgb(250,250,250)"/>
<rect x="273.00" y="103.40" width="1.20" height="17.00" fill="rgb(160,160,160)"/>
<rect x="274.20" y="103.40" width="1.60" height="17.00" fill="rgb(250,250,250)"/>
<rect x="275.80" y="103.40" width="1.00" height="17.00" fill="rgb(15,15,15)"/>
<rect x="276.80" y="103.40" width="1.00" height="17.00" fill="rgb(245,245,245)"/>
<rect x="277.80" y="103.40" width="1.00" height="17.00" fill="rgb(190,190,190)"/>
<rect x="278.80" y="103.40" width="0.80" height="17.00" fill="rgb(240,240,240)"/>
<rect x="279.60" y="103.40" width="1.20" height="17.00" fill="rgb(195,195,195)"/>
<rect x="280.80" y="103.40" width="0.70" height="17.00" fill="rgb(240,240,240)"/>
<rect x="281.50" y="103.40" width="1.10" height="17.00" fill="rgb(200,200,200)"/>
<rect x="282.60" y="103.40" width="0.70" height="17.00" fill="rgb(240,240,240)"/>
<rect x="283.30" y="103.40" width="1.20" height="17.00" fill="rgb(190,190,190)"/>
<rect x="284.50" y="103.40" width="1.90" height="17.00" fill="rgb(250,250,250)"/>
<rect x="286.40" y="103.40" width="1.20" height="17.00" fill="rgb(185,185,185)"/>
<rect x="287.60" y="103.40" width="0.70" height="17.00" fill="rgb(235,235,235)"/>
<rect x="288.30" y="103.40" width="1.30" height="17.00" fill="rgb(195,195,195)"/>
<rect x="289.60" y="103.40" width="0.70" height="17.00" fill="rgb(235,235,235)"/>
<rect x="290.30" y="103.40" width="1.70" height="17.00" fill="rgb(190,190,190)"/>
<rect x="292.00" y="103.40" width="0.80" height="17.00" fill="rgb(230,230,230)"/>
<rect x="292.80" y="103.40" width="1.70" height="17.00" fill="rgb(140,140,140)"/>
<rect x="294.50" y="103.40" width="2.50" height="17.00" fill="rgb(250,250,250)"/>
<rect x="297.00" y="103.40" width="1.20" height="17.00" fill="rgb(170,170,170)"/>
<rect x="298.20" y="103.40" width="0.70" height="17.00" fill="rgb(230,230,230)"/>
<rect x="298.90" y="103.40" width="1.30" height="17.00" fill="rgb(160,160,160)"/>
<rect x="300.20" y="103.40" width="0.70" height="17.00" fill="rgb(225,225,225)"/>
<rect x="300.90" y="103.40" width="2.00" height="17.00" fill="rgb(165,165,165)"/>
<rect x="302.90" y="103.40" width="1.90" height="17.00" fill="rgb(250,250,250)"/>
<rect x="304.80" y="103.40" width="1.20" height="17.00" fill="rgb(150,150,150)"/>
<rect x="306.00" y="103.40" width="0.70" height="17.00" fill="rgb(210,210,210)"/>
<rect x="306.70" y="103.40" width="1.50" height="17.00" fill="rgb(140,140,140)"/>
<rect x="308.20" y="103.40" width="0.70" height="17.00" fill="rgb(200,200,200)"/>
<rect x="308.90" y="103.40" width="0.90" height="17.00" fill="rgb(150,150,150)"/>
<rect x="309.80" y="103.40" width="1.90" height="17.00" fill="rgb(250,250,250)"/>
<rect x="311.70" y="103.40" width="0.80" height="17.00" fill="rgb(120,120,120)"/>
<rect x="312.50" y="103.40" width="0.50" height="17.00" fill="rgb(200,200,200)"/>
<rect x="313.00" y="103.40" width="0.90" height="17.00" fill="rgb(90,90,90)"/>
<rect x="195.20" y="120.50" width="11.80" height="3.50" fill="#e6323e"/>
<rect x="207.00" y="120.50" width="12.30" height="3.50" fill="#e9434f"/>
<rect x="219.30" y="120.50" width="9.70" height="3.50" fill="#ec5a6a"/>
<rect x="229.00" y="120.50" width="10.00" height="3.50" fill="#ee6a7c"/>
<rect x="239.00" y="120.50" width="12.00" height="3.50" fill="#f2a2c8"/>
<rect x="251.00" y="120.50" width="11.90" height="3.50" fill="#f0b0d4"/>
<rect x="262.90" y="120.50" width="12.10" height="3.50" fill="#cfc8e8"/>
<rect x="275.00" y="120.50" width="12.00" height="3.50" fill="#bdb5e0"/>
<rect x="287.00" y="120.50" width="6.00" height="3.50" fill="#6a68c2"/>
<rect x="293.00" y="120.50" width="6.00" height="3.50" fill="#5c5aba"/>
<rect x="299.00" y="120.50" width="6.00" height="3.50" fill="#504eb4"/>
<rect x="305.00" y="120.50" width="5.20" height="3.50" fill="#4644ae"/>
<rect x="310.20" y="120.50" width="3.70" height="3.50" fill="#2c2c9a"/>
<line x1="195.2" y1="120.3" x2="318.4" y2="120.3" stroke="#333" stroke-width="0.5"/>
<line x1="195.2" y1="124.1" x2="318.4" y2="124.1" stroke="#333" stroke-width="0.5"/>
<rect x="195.20" y="50.70" width="123.20" height="51.50" fill="#fff" stroke="#1c1c1c" stroke-width="1.35"/>
<line x1="195.2" y1="94.2" x2="318.4" y2="94.2" stroke="#9a9a9a" stroke-width="0.6"/>
<line x1="191.89999999999998" y1="54.7" x2="195.2" y2="54.7" stroke="#111" stroke-width="0.95"/>
<text x="189.6" y="57.6" font-size="8.1" text-anchor="end" fill="#1a1a1a" stroke="#1a1a1a">0.5</text>
<line x1="191.89999999999998" y1="62.55" x2="195.2" y2="62.55" stroke="#111" stroke-width="0.95"/>
<text x="189.6" y="65.45" font-size="8.1" text-anchor="end" fill="#1a1a1a" stroke="#1a1a1a">0.4</text>
<line x1="191.89999999999998" y1="70.4" x2="195.2" y2="70.4" stroke="#111" stroke-width="0.95"/>
<text x="189.6" y="73.30000000000001" font-size="8.1" text-anchor="end" fill="#1a1a1a" stroke="#1a1a1a">0.3</text>
<line x1="191.89999999999998" y1="78.2" x2="195.2" y2="78.2" stroke="#111" stroke-width="0.95"/>
<text x="189.6" y="81.10000000000001" font-size="8.1" text-anchor="end" fill="#1a1a1a" stroke="#1a1a1a">0.2</text>
<line x1="191.89999999999998" y1="86.05" x2="195.2" y2="86.05" stroke="#111" stroke-width="0.95"/>
<text x="189.6" y="88.95" font-size="8.1" text-anchor="end" fill="#1a1a1a" stroke="#1a1a1a">0.1</text>
<line x1="191.89999999999998" y1="93.9" x2="195.2" y2="93.9" stroke="#111" stroke-width="0.95"/>
<text x="189.6" y="96.80000000000001" font-size="8.1" text-anchor="end" fill="#1a1a1a" stroke="#1a1a1a">0.0</text>
<line x1="191.89999999999998" y1="101.7" x2="195.2" y2="101.7" stroke="#111" stroke-width="0.95"/>
<text x="189.6" y="104.60000000000001" font-size="8.1" text-anchor="end" fill="#1a1a1a" stroke="#1a1a1a">−0.1</text>
<path d="M195.3 94.2 L195.6 88.0 L196.2 82.0 L197.2 76.2 L197.8 71.0 L198.6 65.6 L199.6 63.8 L200.6 60.5 L202.4 57.4 L204.0 56.5 L205.4 54.2 L206.7 52.7 L207.6 53.7 L208.6 54.4 L210.4 54.9 L212.5 54.6 L214.8 54.4 L217.0 54.7 L219.6 55.0 L222.5 56.2 L225.4 57.9 L231.0 61.2 L237.0 64.6 L243.0 68.0 L248.5 71.3 L254.0 74.6 L260.0 78.0 L266.0 81.5 L272.0 85.2 L276.0 87.6 L280.0 89.8 L283.0 91.0 L286.2 91.6 L290.0 93.5 L293.8 95.4 L297.5 97.0 L301.5 98.3 L303.0 99.3 L304.4 99.0 L305.4 99.6 L306.3 98.8 L307.8 99.6 L309.2 100.2 L310.6 99.7 L312.1 99.6 L313.2 99.0 L313.7 98.2 L314.0 96.5 L314.2 94.2" stroke="#1de21d" stroke-width="1.65" fill="none" stroke-linejoin="round" stroke-linecap="round"/>
<text x="182.8" y="43.8" font-size="8.7" textLength="137.4" lengthAdjust="spacingAndGlyphs" fill="#1a1a1a" stroke="#1a1a1a">Brown myeloid cell development UP</text>
<text x="315.2" y="59.2" font-size="8.3" text-anchor="end" textLength="44.6" lengthAdjust="spacingAndGlyphs" fill="#1a1a1a" stroke="#1a1a1a">NES = 1.944</text>
<text x="315.2" y="68.8" font-size="8.3" text-anchor="end" textLength="77.2" lengthAdjust="spacingAndGlyphs" fill="#1a1a1a" stroke="#1a1a1a">FDR q-value = 0.0451</text>
<text x="170.1" y="120.6" font-size="8.8" textLength="73.0" lengthAdjust="spacingAndGlyphs" transform="rotate(-90 170.1 120.6)" fill="#161616" stroke="#161616" stroke-width="0.1">Enrichment score (ES)</text>
<text x="196.8" y="133.3" font-size="7.5" textLength="12.4" lengthAdjust="spacingAndGlyphs" fill="#e6313f" stroke="#e6313f">Pos</text>
<text x="299.8" y="133.3" font-size="7.6" textLength="14.6" lengthAdjust="spacingAndGlyphs" fill="#2f6aa8" stroke="#2f6aa8">Neg</text>
<text x="224.9" y="133.10000000000002" font-size="6.7" textLength="60.3" lengthAdjust="spacingAndGlyphs" fill="#1a1a1a" stroke="#1a1a1a">shFIP1L1 vs. shCon</text>
<text x="216.8" y="147.2" font-size="9.7" textLength="78.4" lengthAdjust="spacingAndGlyphs" fill="#161616" stroke="#161616" stroke-width="0.1">Rank in ordered dataset</text>
<rect x="44.80" y="263.80" width="1.20" height="16.60" fill="rgb(200,200,200)"/>
<rect x="46.00" y="263.80" width="0.70" height="16.60" fill="rgb(235,235,235)"/>
<rect x="46.70" y="263.80" width="0.90" height="16.60" fill="rgb(205,205,205)"/>
<rect x="47.60" y="263.80" width="1.90" height="16.60" fill="rgb(250,250,250)"/>
<rect x="49.50" y="263.80" width="1.10" height="16.60" fill="rgb(170,170,170)"/>
<rect x="50.60" y="263.80" width="0.70" height="16.60" fill="rgb(215,215,215)"/>
<rect x="51.30" y="263.80" width="1.50" height="16.60" fill="rgb(165,165,165)"/>
<rect x="52.80" y="263.80" width="0.70" height="16.60" fill="rgb(210,210,210)"/>
<rect x="53.50" y="263.80" width="1.30" height="16.60" fill="rgb(160,160,160)"/>
<rect x="54.80" y="263.80" width="1.10" height="16.60" fill="rgb(185,185,185)"/>
<rect x="55.90" y="263.80" width="1.90" height="16.60" fill="rgb(250,250,250)"/>
<rect x="57.80" y="263.80" width="1.10" height="16.60" fill="rgb(170,170,170)"/>
<rect x="58.90" y="263.80" width="0.70" height="16.60" fill="rgb(230,230,230)"/>
<rect x="59.60" y="263.80" width="0.70" height="16.60" fill="rgb(180,180,180)"/>
<rect x="60.30" y="263.80" width="2.50" height="16.60" fill="rgb(250,250,250)"/>
<rect x="62.80" y="263.80" width="1.50" height="16.60" fill="rgb(20,20,20)"/>
<rect x="64.30" y="263.80" width="1.20" height="16.60" fill="rgb(235,235,235)"/>
<rect x="65.50" y="263.80" width="1.80" height="16.60" fill="rgb(15,15,15)"/>
<rect x="67.30" y="263.80" width="0.90" height="16.60" fill="rgb(245,245,245)"/>
<rect x="68.20" y="263.80" width="0.80" height="16.60" fill="rgb(60,60,60)"/>
<rect x="69.00" y="263.80" width="2.10" height="16.60" fill="rgb(250,250,250)"/>
<rect x="71.10" y="263.80" width="1.30" height="16.60" fill="rgb(70,70,70)"/>
<rect x="72.40" y="263.80" width="0.80" height="16.60" fill="rgb(120,120,120)"/>
<rect x="73.20" y="263.80" width="1.70" height="16.60" fill="rgb(80,80,80)"/>
<rect x="74.90" y="263.80" width="0.90" height="16.60" fill="rgb(200,200,200)"/>
<rect x="75.80" y="263.80" width="0.80" height="16.60" fill="rgb(235,235,235)"/>
<rect x="76.60" y="263.80" width="1.00" height="16.60" fill="rgb(195,195,195)"/>
<rect x="77.60" y="263.80" width="0.60" height="16.60" fill="rgb(235,235,235)"/>
<rect x="78.20" y="263.80" width="1.40" height="16.60" fill="rgb(150,150,150)"/>
<rect x="79.60" y="263.80" width="0.80" height="16.60" fill="rgb(210,210,210)"/>
<rect x="80.40" y="263.80" width="1.50" height="16.60" fill="rgb(140,140,140)"/>
<rect x="81.90" y="263.80" width="1.90" height="16.60" fill="rgb(250,250,250)"/>
<rect x="83.80" y="263.80" width="2.10" height="16.60" fill="rgb(15,15,15)"/>
<rect x="85.90" y="263.80" width="1.70" height="16.60" fill="rgb(250,250,250)"/>
<rect x="87.60" y="263.80" width="1.40" height="16.60" fill="rgb(130,130,130)"/>
<rect x="89.00" y="263.80" width="0.80" height="16.60" fill="rgb(180,180,180)"/>
<rect x="89.80" y="263.80" width="1.60" height="16.60" fill="rgb(120,120,120)"/>
<rect x="91.40" y="263.80" width="0.80" height="16.60" fill="rgb(175,175,175)"/>
<rect x="92.20" y="263.80" width="1.60" height="16.60" fill="rgb(125,125,125)"/>
<rect x="93.80" y="263.80" width="1.40" height="16.60" fill="rgb(150,150,150)"/>
<rect x="95.20" y="263.80" width="1.10" height="16.60" fill="rgb(20,20,20)"/>
<rect x="96.30" y="263.80" width="4.60" height="16.60" fill="rgb(250,250,250)"/>
<rect x="100.90" y="263.80" width="1.00" height="16.60" fill="rgb(160,160,160)"/>
<rect x="101.90" y="263.80" width="0.70" height="16.60" fill="rgb(225,225,225)"/>
<rect x="102.60" y="263.80" width="0.90" height="16.60" fill="rgb(170,170,170)"/>
<rect x="103.50" y="263.80" width="0.50" height="16.60" fill="rgb(250,250,250)"/>
<rect x="104.00" y="263.80" width="1.30" height="16.60" fill="rgb(50,50,50)"/>
<rect x="105.30" y="263.80" width="1.00" height="16.60" fill="rgb(245,245,245)"/>
<rect x="106.30" y="263.80" width="0.60" height="16.60" fill="rgb(195,195,195)"/>
<rect x="106.90" y="263.80" width="1.50" height="16.60" fill="rgb(248,248,248)"/>
<rect x="108.40" y="263.80" width="0.60" height="16.60" fill="rgb(200,200,200)"/>
<rect x="109.00" y="263.80" width="2.60" height="16.60" fill="rgb(250,250,250)"/>
<rect x="111.60" y="263.80" width="2.60" height="16.60" fill="rgb(15,15,15)"/>
<rect x="114.20" y="263.80" width="1.60" height="16.60" fill="rgb(250,250,250)"/>
<rect x="115.80" y="263.80" width="0.70" height="16.60" fill="rgb(150,150,150)"/>
<rect x="116.50" y="263.80" width="1.10" height="16.60" fill="rgb(245,245,245)"/>
<rect x="117.60" y="263.80" width="0.70" height="16.60" fill="rgb(140,140,140)"/>
<rect x="118.30" y="263.80" width="0.90" height="16.60" fill="rgb(245,245,245)"/>
<rect x="119.20" y="263.80" width="1.90" height="16.60" fill="rgb(150,150,150)"/>
<rect x="121.10" y="263.80" width="1.30" height="16.60" fill="rgb(245,245,245)"/>
<rect x="122.40" y="263.80" width="0.60" height="16.60" fill="rgb(190,190,190)"/>
<rect x="123.00" y="263.80" width="1.50" height="16.60" fill="rgb(248,248,248)"/>
<rect x="124.50" y="263.80" width="0.70" height="16.60" fill="rgb(190,190,190)"/>
<rect x="125.20" y="263.80" width="1.60" height="16.60" fill="rgb(250,250,250)"/>
<rect x="126.80" y="263.80" width="1.20" height="16.60" fill="rgb(60,60,60)"/>
<rect x="128.00" y="263.80" width="0.60" height="16.60" fill="rgb(160,160,160)"/>
<rect x="128.60" y="263.80" width="0.80" height="16.60" fill="rgb(70,70,70)"/>
<rect x="129.40" y="263.80" width="1.00" height="16.60" fill="rgb(235,235,235)"/>
<rect x="130.40" y="263.80" width="0.80" height="16.60" fill="rgb(180,180,180)"/>
<rect x="131.20" y="263.80" width="0.80" height="16.60" fill="rgb(235,235,235)"/>
<rect x="132.00" y="263.80" width="1.00" height="16.60" fill="rgb(175,175,175)"/>
<rect x="133.00" y="263.80" width="0.70" height="16.60" fill="rgb(235,235,235)"/>
<rect x="133.70" y="263.80" width="0.80" height="16.60" fill="rgb(185,185,185)"/>
<rect x="134.50" y="263.80" width="2.50" height="16.60" fill="rgb(250,250,250)"/>
<rect x="137.00" y="263.80" width="1.20" height="16.60" fill="rgb(100,100,100)"/>
<rect x="138.20" y="263.80" width="0.70" height="16.60" fill="rgb(160,160,160)"/>
<rect x="138.90" y="263.80" width="1.30" height="16.60" fill="rgb(90,90,90)"/>
<rect x="140.20" y="263.80" width="1.80" height="16.60" fill="rgb(250,250,250)"/>
<rect x="142.00" y="263.80" width="1.90" height="16.60" fill="rgb(70,70,70)"/>
<rect x="143.90" y="263.80" width="2.00" height="16.60" fill="rgb(245,245,245)"/>
<rect x="145.90" y="263.80" width="1.30" height="16.60" fill="rgb(60,60,60)"/>
<rect x="147.20" y="263.80" width="0.70" height="16.60" fill="rgb(120,120,120)"/>
<rect x="147.90" y="263.80" width="1.30" height="16.60" fill="rgb(50,50,50)"/>
<rect x="149.20" y="263.80" width="1.10" height="16.60" fill="rgb(80,80,80)"/>
<rect x="150.30" y="263.80" width="1.30" height="16.60" fill="rgb(170,170,170)"/>
<rect x="151.60" y="263.80" width="1.00" height="16.60" fill="rgb(50,50,50)"/>
<rect x="152.60" y="263.80" width="0.60" height="16.60" fill="rgb(120,120,120)"/>
<rect x="153.20" y="263.80" width="0.90" height="16.60" fill="rgb(40,40,40)"/>
<rect x="154.10" y="263.80" width="1.90" height="16.60" fill="rgb(225,225,225)"/>
<rect x="156.00" y="263.80" width="1.80" height="16.60" fill="rgb(10,10,10)"/>
<rect x="157.80" y="263.80" width="1.40" height="16.60" fill="rgb(90,90,90)"/>
<rect x="159.20" y="263.80" width="4.40" height="16.60" fill="rgb(5,5,5)"/>
<rect x="44.80" y="280.60" width="12.20" height="4.20" fill="#e6323e"/>
<rect x="57.00" y="280.60" width="11.90" height="4.20" fill="#e9434f"/>
<rect x="68.90" y="280.60" width="10.10" height="4.20" fill="#ec5a6a"/>
<rect x="79.00" y="280.60" width="9.90" height="4.20" fill="#ee6a7c"/>
<rect x="88.90" y="280.60" width="12.10" height="4.20" fill="#f2a2c8"/>
<rect x="101.00" y="280.60" width="11.60" height="4.20" fill="#f0b0d4"/>
<rect x="112.60" y="280.60" width="12.40" height="4.20" fill="#cfc8e8"/>
<rect x="125.00" y="280.60" width="12.00" height="4.20" fill="#bdb5e0"/>
<rect x="137.00" y="280.60" width="6.00" height="4.20" fill="#6a68c2"/>
<rect x="143.00" y="280.60" width="6.00" height="4.20" fill="#5c5aba"/>
<rect x="149.00" y="280.60" width="6.00" height="4.20" fill="#504eb4"/>
<rect x="155.00" y="280.60" width="5.00" height="4.20" fill="#4644ae"/>
<rect x="160.00" y="280.60" width="3.60" height="4.20" fill="#2c2c9a"/>
<line x1="44.7" y1="280.40000000000003" x2="166.2" y2="280.40000000000003" stroke="#333" stroke-width="0.5"/>
<line x1="44.7" y1="284.90000000000003" x2="166.2" y2="284.90000000000003" stroke="#333" stroke-width="0.5"/>
<rect x="44.70" y="210.70" width="121.50" height="52.00" fill="#fff" stroke="#1c1c1c" stroke-width="1.35"/>
<line x1="44.7" y1="215.0" x2="166.2" y2="215.0" stroke="#9a9a9a" stroke-width="0.6"/>
<line x1="41.400000000000006" y1="214.9" x2="44.7" y2="214.9" stroke="#111" stroke-width="0.95"/>
<text x="38.2" y="217.8" font-size="8.1" text-anchor="end" fill="#1a1a1a" stroke="#1a1a1a">0.0</text>
<line x1="41.400000000000006" y1="224.2" x2="44.7" y2="224.2" stroke="#111" stroke-width="0.95"/>
<text x="38.2" y="227.1" font-size="8.1" text-anchor="end" fill="#1a1a1a" stroke="#1a1a1a">−0.1</text>
<line x1="41.400000000000006" y1="233.2" x2="44.7" y2="233.2" stroke="#111" stroke-width="0.95"/>
<text x="38.2" y="236.1" font-size="8.1" text-anchor="end" fill="#1a1a1a" stroke="#1a1a1a">−0.2</text>
<line x1="41.400000000000006" y1="242.0" x2="44.7" y2="242.0" stroke="#111" stroke-width="0.95"/>
<text x="38.2" y="244.9" font-size="8.1" text-anchor="end" fill="#1a1a1a" stroke="#1a1a1a">−0.3</text>
<line x1="41.400000000000006" y1="250.9" x2="44.7" y2="250.9" stroke="#111" stroke-width="0.95"/>
<text x="38.2" y="253.8" font-size="8.1" text-anchor="end" fill="#1a1a1a" stroke="#1a1a1a">−0.4</text>
<line x1="41.400000000000006" y1="259.7" x2="44.7" y2="259.7" stroke="#111" stroke-width="0.95"/>
<text x="38.2" y="262.59999999999997" font-size="8.1" text-anchor="end" fill="#1a1a1a" stroke="#1a1a1a">−0.5</text>
<path d="M44.8 215.0 L45.6 214.0 L47.1 213.5 L48.5 214.4 L50.0 214.7 L51.5 213.7 L52.9 213.8 L54.4 214.7 L55.8 214.6 L57.2 214.2 L58.7 215.0 L60.0 215.9 L61.5 216.5 L63.5 216.6 L65.4 216.9 L67.3 216.8 L69.2 217.3 L71.0 218.1 L73.1 218.8 L77.0 220.6 L80.8 222.7 L85.5 225.6 L90.4 228.4 L95.0 231.2 L100.0 234.6 L106.0 239.2 L113.1 244.8 L119.0 248.9 L124.6 252.5 L129.5 255.1 L134.2 257.3 L138.0 258.7 L141.9 259.6 L143.8 259.7 L145.8 259.2 L148.2 258.6 L150.6 257.6 L152.6 255.8 L154.4 253.5 L156.0 250.8 L157.3 247.7 L158.5 244.0 L159.6 240.0 L160.6 235.3 L161.5 230.4 L162.3 225.6 L163.0 220.8 L163.4 217.5 L163.6 215.0" stroke="#1de21d" stroke-width="1.65" fill="none" stroke-linejoin="round" stroke-linecap="round"/>
<text x="32.3" y="202.9" font-size="8.7" textLength="137.5" lengthAdjust="spacingAndGlyphs" fill="#1a1a1a" stroke="#1a1a1a">Jaatinen hematopoietic stem cell UP</text>
<text x="161" y="222" font-size="8.3" text-anchor="end" textLength="49" lengthAdjust="spacingAndGlyphs" fill="#1a1a1a" stroke="#1a1a1a">NES = –2.2572</text>
<text x="161" y="229.6" font-size="8.3" text-anchor="end" textLength="67.5" lengthAdjust="spacingAndGlyphs" fill="#1a1a1a" stroke="#1a1a1a">FDR q-value = 0.001</text>
<text x="19.0" y="278.6" font-size="8.8" textLength="72.0" lengthAdjust="spacingAndGlyphs" transform="rotate(-90 19.0 278.6)" fill="#161616" stroke="#161616" stroke-width="0.1">Enrichment score (ES)</text>
<text x="47.8" y="294.4" font-size="7.5" textLength="12.4" lengthAdjust="spacingAndGlyphs" fill="#e6313f" stroke="#e6313f">Pos</text>
<text x="147.1" y="294.4" font-size="7.6" textLength="14.6" lengthAdjust="spacingAndGlyphs" fill="#2f6aa8" stroke="#2f6aa8">Neg</text>
<text x="73.7" y="294.2" font-size="6.7" textLength="59.6" lengthAdjust="spacingAndGlyphs" fill="#1a1a1a" stroke="#1a1a1a">shFIP1L1 vs. shCon</text>
<text x="65.1" y="308.5" font-size="9.7" textLength="77.9" lengthAdjust="spacingAndGlyphs" fill="#161616" stroke="#161616" stroke-width="0.1">Rank in ordered dataset</text>
<defs><filter id="b1" x="-20%" y="-100%" width="140%" height="300%"><feGaussianBlur stdDeviation="0.9 0.55"/></filter><filter id="b2" x="-20%" y="-100%" width="140%" height="300%"><feGaussianBlur stdDeviation="1.1 0.7"/></filter></defs>
<rect x="26.80" y="95.00" width="81.70" height="19.90" fill="#f7f7f7" stroke="#111" stroke-width="1.1"/>
<rect x="29.6" y="102.45" width="22.40" height="2.1" rx="1.05" fill="#000" opacity="1" filter="url(#b1)"/>
<rect x="29.6" y="104.90" width="22.40" height="2.2" rx="1.10" fill="#000" opacity="1" filter="url(#b1)"/>
<rect x="31" y="108.30" width="20.00" height="1.0" rx="0.50" fill="#444" opacity="0.6" filter="url(#b1)"/>
<rect x="57.2" y="103.20" width="19.20" height="1.4" rx="0.70" fill="#333" opacity="0.65" filter="url(#b1)"/>
<rect x="57.2" y="105.35" width="19.20" height="1.7" rx="0.85" fill="#222" opacity="0.85" filter="url(#b1)"/>
<rect x="83.6" y="104.60" width="23.00" height="1.2" rx="0.60" fill="#555" opacity="0.5" filter="url(#b1)"/>
<rect x="84" y="103.25" width="22.50" height="0.9" rx="0.45" fill="#888" opacity="0.25" filter="url(#b1)"/>
<rect x="26.80" y="120.50" width="81.70" height="20.60" fill="#ececec" stroke="#111" stroke-width="1.1"/>
<path d="M27.4 126.6 C32 126.5 37 126.9 41.2 127.3 C46 127.8 50 128.7 53.8 128.8 C58 128.8 62 127.9 66.5 127.9 C72 127.9 76 128.5 81.3 128.4 C86 128.2 90 127.3 94 126.9 C98 126.5 103 126.2 107.8 126.2 L107.8 131 C103 131.4 98 132.5 94 132.6 C89 132.7 85 132 81.3 132 C77 132.2 73 133.7 68.7 133.7 C63 133.7 58 133.3 53.8 133.2 C49 133.1 45 132.9 41.2 132.8 C36 132.6 31 132.2 27.4 131.9 Z" fill="#000" filter="url(#b1)"/>
<text x="112" y="107.9" font-size="8" textLength="23.2" lengthAdjust="spacingAndGlyphs" fill="#1a1a1a" stroke="#1a1a1a">FIP1L1</text>
<text x="111.8" y="133.3" font-size="8" textLength="18.8" lengthAdjust="spacingAndGlyphs" fill="#1a1a1a" stroke="#1a1a1a">Actin</text>
<text x="40.4" y="91.5" font-size="8.2" textLength="33.8" lengthAdjust="spacingAndGlyphs" transform="rotate(-53 40.4 91.5)" fill="#1a1a1a" stroke="#1a1a1a">shControl</text>
<text x="68.0" y="91.5" font-size="8.2" textLength="42.6" lengthAdjust="spacingAndGlyphs" transform="rotate(-53 68.0 91.5)" fill="#1a1a1a" stroke="#1a1a1a">shFIP1L1 (1)</text>
<text x="93.0" y="91.5" font-size="8.2" textLength="42.6" lengthAdjust="spacingAndGlyphs" transform="rotate(-53 93.0 91.5)" fill="#1a1a1a" stroke="#1a1a1a">shFIP1L1 (2)</text>
<rect x="400.40" y="437.80" width="63.20" height="21.70" fill="#f3f3f3" stroke="#111" stroke-width="1.1"/>
<rect x="406.6" y="443.40" width="22.60" height="1.6" rx="0.80" fill="#555" opacity="0.7" filter="url(#b2)"/>
<rect x="406.4" y="445.10" width="22.80" height="2.6" rx="1.30" fill="#000" opacity="1" filter="url(#b2)"/>
<rect x="406.4" y="447.50" width="22.80" height="2.6" rx="1.30" fill="#000" opacity="1" filter="url(#b2)"/>
<rect x="407.5" y="451.00" width="21.10" height="1.0" rx="0.50" fill="#222" opacity="0.8" filter="url(#b1)"/>
<rect x="434.4" y="446.50" width="24.10" height="1.0" rx="0.50" fill="#777" opacity="0.5" filter="url(#b1)"/>
<rect x="400.40" y="468.10" width="63.20" height="21.80" fill="#f1f1f1" stroke="#111" stroke-width="1.1"/>
<path d="M402.8 476.0 C407 475.8 412 476.9 417 476.8 C422 476.7 427 475.6 430.8 475.4 L430.8 480.6 C427 481.4 422 482.3 417 482.3 C412 482.3 407 481.6 402.8 480.8 Z" fill="#000" filter="url(#b2)"/>
<path d="M434.0 475.8 C438 475.0 445 474.6 450 474.5 C454 474.4 458 474.3 461.2 474.4 L461.2 479.5 C457 480.5 452 481.2 447 481.3 C442 481.4 437 481.3 434.0 480.8 Z" fill="#000" filter="url(#b2)"/>
<text x="467.4" y="453.5" font-size="8" textLength="22.9" lengthAdjust="spacingAndGlyphs" fill="#1a1a1a" stroke="#1a1a1a">FIP1L1</text>
<text x="467.2" y="482.1" font-size="8" textLength="18.4" lengthAdjust="spacingAndGlyphs" fill="#1a1a1a" stroke="#1a1a1a">Actin</text>
<text x="417.6" y="430.4" font-size="9" textLength="36.5" lengthAdjust="spacingAndGlyphs" transform="rotate(-50 417.6 430.4)" fill="#1a1a1a" stroke="#1a1a1a">sgControl</text>
<text x="446.8" y="430.4" font-size="9" textLength="34.6" lengthAdjust="spacingAndGlyphs" transform="rotate(-50 446.8 430.4)" fill="#1a1a1a" stroke="#1a1a1a">sgFIP1L1</text>
<rect x="423.50" y="216.90" width="13.60" height="111.00" fill="#c8102e"/>
<rect x="443.20" y="276.62" width="13.60" height="51.28" fill="#14568a"/>
<rect x="463.30" y="252.42" width="13.60" height="75.48" fill="#3bb54a"/>
<rect x="483.30" y="270.07" width="13.60" height="57.83" fill="#5c2a70"/>
<line x1="420.1" y1="197.8" x2="420.1" y2="328.65" stroke="#111" stroke-width="1.5"/>
<line x1="419.35" y1="327.9" x2="500.5" y2="327.9" stroke="#111" stroke-width="1.5"/>
<line x1="416.70000000000005" y1="216.90" x2="420.1" y2="216.90" stroke="#111" stroke-width="1.0"/>
<text x="414.6" y="219.7" font-size="8" text-anchor="end" textLength="10.6" lengthAdjust="spacingAndGlyphs" fill="#1a1a1a" stroke="#1a1a1a">1.0</text>
<line x1="416.70000000000005" y1="272.40" x2="420.1" y2="272.40" stroke="#111" stroke-width="1.0"/>
<text x="414.6" y="275.2" font-size="8" text-anchor="end" textLength="10.6" lengthAdjust="spacingAndGlyphs" fill="#1a1a1a" stroke="#1a1a1a">0.5</text>
<line x1="416.70000000000005" y1="327.90" x2="420.1" y2="327.90" stroke="#111" stroke-width="1.0"/>
<text x="414.6" y="330.7" font-size="8" text-anchor="end" textLength="10.6" lengthAdjust="spacingAndGlyphs" fill="#1a1a1a" stroke="#1a1a1a">0.0</text>
<line x1="430.2" y1="327.9" x2="430.2" y2="331.29999999999995" stroke="#111" stroke-width="1.0"/>
<line x1="450.3" y1="327.9" x2="450.3" y2="331.29999999999995" stroke="#111" stroke-width="1.0"/>
<line x1="470.4" y1="327.9" x2="470.4" y2="331.29999999999995" stroke="#111" stroke-width="1.0"/>
<line x1="490.2" y1="327.9" x2="490.2" y2="331.29999999999995" stroke="#111" stroke-width="1.0"/>
<circle cx="425.30" cy="216.90" r="2.0" fill="#111"/>
<circle cx="429.90" cy="216.90" r="2.0" fill="#111"/>
<circle cx="434.80" cy="216.90" r="2.0" fill="#111"/>
<line x1="450.00" y1="274.84" x2="450.00" y2="277.06" stroke="#111" stroke-width="0.9"/>
<line x1="448.00" y1="274.84" x2="452.00" y2="274.84" stroke="#111" stroke-width="0.9"/>
<line x1="448.00" y1="277.06" x2="452.00" y2="277.06" stroke="#111" stroke-width="0.9"/>
<rect x="443.50" y="274.85" width="3.00" height="3.00" fill="#111"/>
<rect x="448.50" y="273.85" width="3.00" height="3.00" fill="#111"/>
<rect x="453.50" y="274.85" width="3.00" height="3.00" fill="#111"/>
<line x1="470.30" y1="249.87" x2="470.30" y2="254.86" stroke="#111" stroke-width="0.9"/>
<line x1="467.30" y1="249.87" x2="473.30" y2="249.87" stroke="#111" stroke-width="0.9"/>
<line x1="467.30" y1="254.86" x2="473.30" y2="254.86" stroke="#111" stroke-width="0.9"/>
<path d="M465.20 247.22 L467.10 251.02 L463.30 251.02 Z" fill="#111"/>
<path d="M475.40 249.32 L477.30 253.12 L473.50 253.12 Z" fill="#111"/>
<path d="M470.20 254.72 L472.10 258.52 L468.30 258.52 Z" fill="#111"/>
<line x1="490.10" y1="262.30" x2="490.10" y2="277.39" stroke="#111" stroke-width="0.9"/>
<line x1="487.00" y1="262.30" x2="493.20" y2="262.30" stroke="#111" stroke-width="0.9"/>
<line x1="487.00" y1="277.39" x2="493.20" y2="277.39" stroke="#111" stroke-width="0.9"/>
<circle cx="485.20" cy="265.80" r="1.9" fill="#111"/>
<circle cx="495.00" cy="265.80" r="1.9" fill="#111"/>
<circle cx="490.10" cy="278.60" r="1.9" fill="#111"/>
<path d="M433.3 207.6 V200.3 H469.6 V226 M451.6 232.8 V226 H487.8 V232.8" stroke="#111" stroke-width="0.95" fill="none"/>
<text x="449.3" y="199.95" font-size="10.2" text-anchor="middle" fill="#111" stroke="#111" stroke-width="0.3">***</text>
<text x="400.2" y="294.8" font-size="9.8" textLength="62" lengthAdjust="spacingAndGlyphs" transform="rotate(-90 400.2 294.8)" fill="#1c1c1c" stroke="#1c1c1c" stroke-width="0.1">Relative CD34 MFI</text>
<text x="432.8" y="337.0" font-size="8.2" text-anchor="end" textLength="33.2" lengthAdjust="spacingAndGlyphs" transform="rotate(-45 432.8 337.0)" fill="#1a1a1a" stroke="#1a1a1a">shControl</text>
<text x="452.90000000000003" y="337.0" font-size="8.2" text-anchor="end" textLength="42" lengthAdjust="spacingAndGlyphs" transform="rotate(-45 452.90000000000003 337.0)" fill="#1a1a1a" stroke="#1a1a1a">shFIP1L1 (1)</text>
<text x="473.0" y="337.0" font-size="8.2" text-anchor="end" textLength="42" lengthAdjust="spacingAndGlyphs" transform="rotate(-45 473.0 337.0)" fill="#1a1a1a" stroke="#1a1a1a">shFIP1L1 (2)</text>
<text x="492.8" y="337.0" font-size="8.2" text-anchor="end" textLength="42" lengthAdjust="spacingAndGlyphs" transform="rotate(-45 492.8 337.0)" fill="#1a1a1a" stroke="#1a1a1a">shFIP1L1 (3)</text>
<rect x="265.00" y="419.33" width="16.30" height="50.57" fill="#c8102e"/>
<rect x="289.90" y="403.46" width="16.30" height="66.44" fill="#3bb54a"/>
<rect x="314.30" y="378.17" width="16.30" height="91.73" fill="#5c2a70"/>
<line x1="261.0" y1="351.4" x2="261.0" y2="470.65" stroke="#111" stroke-width="1.5"/>
<line x1="260.25" y1="469.9" x2="334.2" y2="469.9" stroke="#111" stroke-width="1.5"/>
<line x1="257.5" y1="469.90" x2="261.0" y2="469.90" stroke="#111" stroke-width="1.0"/>
<text x="256.0" y="472.7" font-size="8" text-anchor="end" fill="#1a1a1a" stroke="#1a1a1a">0</text>
<line x1="257.5" y1="440.50" x2="261.0" y2="440.50" stroke="#111" stroke-width="1.0"/>
<text x="256.0" y="443.3" font-size="8" text-anchor="end" textLength="9.6" lengthAdjust="spacingAndGlyphs" fill="#1a1a1a" stroke="#1a1a1a">10</text>
<line x1="257.5" y1="411.10" x2="261.0" y2="411.10" stroke="#111" stroke-width="1.0"/>
<text x="256.0" y="413.9" font-size="8" text-anchor="end" textLength="9.6" lengthAdjust="spacingAndGlyphs" fill="#1a1a1a" stroke="#1a1a1a">20</text>
<line x1="257.5" y1="381.70" x2="261.0" y2="381.70" stroke="#111" stroke-width="1.0"/>
<text x="256.0" y="384.5" font-size="8" text-anchor="end" textLength="9.6" lengthAdjust="spacingAndGlyphs" fill="#1a1a1a" stroke="#1a1a1a">30</text>
<line x1="257.5" y1="352.30" x2="261.0" y2="352.30" stroke="#111" stroke-width="1.0"/>
<text x="256.0" y="355.1" font-size="8" text-anchor="end" textLength="9.6" lengthAdjust="spacingAndGlyphs" fill="#1a1a1a" stroke="#1a1a1a">40</text>
<line x1="273.3" y1="469.9" x2="273.3" y2="473.29999999999995" stroke="#111" stroke-width="1.0"/>
<line x1="298.0" y1="469.9" x2="298.0" y2="473.29999999999995" stroke="#111" stroke-width="1.0"/>
<line x1="322.4" y1="469.9" x2="322.4" y2="473.29999999999995" stroke="#111" stroke-width="1.0"/>
<line x1="273.30" y1="411.98" x2="273.30" y2="426.39" stroke="#111" stroke-width="0.9"/>
<line x1="269.40" y1="411.98" x2="277.20" y2="411.98" stroke="#111" stroke-width="0.9"/>
<line x1="269.40" y1="426.39" x2="277.20" y2="426.39" stroke="#111" stroke-width="0.9"/>
<circle cx="273.30" cy="411.98" r="1.9" fill="#111"/>
<circle cx="273.30" cy="421.10" r="1.9" fill="#111"/>
<path d="M273.30 423.52 L275.20 427.32 L271.40 427.32 Z" fill="#111"/>
<line x1="298.00" y1="392.87" x2="298.00" y2="413.45" stroke="#111" stroke-width="0.9"/>
<line x1="294.10" y1="392.87" x2="301.90" y2="392.87" stroke="#111" stroke-width="0.9"/>
<line x1="294.10" y1="413.45" x2="301.90" y2="413.45" stroke="#111" stroke-width="0.9"/>
<circle cx="298.00" cy="392.87" r="1.9" fill="#111"/>
<circle cx="298.00" cy="404.04" r="1.9" fill="#111"/>
<circle cx="298.00" cy="413.45" r="1.9" fill="#111"/>
<line x1="322.40" y1="366.41" x2="322.40" y2="388.76" stroke="#111" stroke-width="0.9"/>
<line x1="318.50" y1="366.41" x2="326.30" y2="366.41" stroke="#111" stroke-width="0.9"/>
<line x1="318.50" y1="388.76" x2="326.30" y2="388.76" stroke="#111" stroke-width="0.9"/>
<path d="M322.40 363.84 L324.30 367.64 L320.50 367.64 Z" fill="#111"/>
<path d="M319.20 382.48 L321.00 386.08 L317.40 386.08 Z" fill="#111"/>
<path d="M326.20 382.19 L328.00 385.79 L324.40 385.79 Z" fill="#111"/>
<path d="M275.6 357.6 V351.3 H322.5 V357.6" stroke="#111" stroke-width="1.05" fill="none"/>
<text x="296.3" y="351.05" font-size="10.2" text-anchor="middle" fill="#111" stroke="#111" stroke-width="0.3">**</text>
<text x="242.3" y="444.2" font-size="10.2" textLength="64.4" lengthAdjust="spacingAndGlyphs" transform="rotate(-90 242.3 444.2)" fill="#1c1c1c" stroke="#1c1c1c" stroke-width="0.1">% Annexin V+ cells</text>
<text x="276.7" y="479.2" font-size="8.2" text-anchor="end" textLength="33.2" lengthAdjust="spacingAndGlyphs" transform="rotate(-45 276.7 479.2)" fill="#1a1a1a" stroke="#1a1a1a">shControl</text>
<text x="301.4" y="479.2" font-size="8.2" text-anchor="end" textLength="42" lengthAdjust="spacingAndGlyphs" transform="rotate(-45 301.4 479.2)" fill="#1a1a1a" stroke="#1a1a1a">shFIP1L1 (2)</text>
<text x="325.79999999999995" y="479.2" font-size="8.2" text-anchor="end" textLength="42" lengthAdjust="spacingAndGlyphs" transform="rotate(-45 325.79999999999995 479.2)" fill="#1a1a1a" stroke="#1a1a1a">shFIP1L1 (3)</text>
<rect x="49.20" y="536.77" width="17.10" height="93.13" fill="#c8102e"/>
<rect x="75.10" y="563.14" width="17.10" height="66.76" fill="#14568a"/>
<line x1="44.9" y1="526.2" x2="44.9" y2="630.65" stroke="#111" stroke-width="1.5"/>
<line x1="44.15" y1="629.9" x2="97.2" y2="629.9" stroke="#111" stroke-width="1.5"/>
<line x1="41.3" y1="536.40" x2="44.9" y2="536.40" stroke="#111" stroke-width="1.0"/>
<text x="38.8" y="539.2" font-size="8" text-anchor="end" textLength="10.9" lengthAdjust="spacingAndGlyphs" fill="#1a1a1a" stroke="#1a1a1a">1.0</text>
<line x1="41.3" y1="583.15" x2="44.9" y2="583.15" stroke="#111" stroke-width="1.0"/>
<text x="38.8" y="585.95" font-size="8" text-anchor="end" textLength="10.9" lengthAdjust="spacingAndGlyphs" fill="#1a1a1a" stroke="#1a1a1a">0.5</text>
<line x1="41.3" y1="629.90" x2="44.9" y2="629.90" stroke="#111" stroke-width="1.0"/>
<text x="38.8" y="632.7" font-size="8" text-anchor="end" textLength="10.9" lengthAdjust="spacingAndGlyphs" fill="#1a1a1a" stroke="#1a1a1a">0.0</text>
<line x1="57.8" y1="629.9" x2="57.8" y2="633.6999999999999" stroke="#111" stroke-width="1.0"/>
<line x1="83.6" y1="629.9" x2="83.6" y2="633.6999999999999" stroke="#111" stroke-width="1.0"/>
<circle cx="51.30" cy="536.60" r="2.0" fill="#111"/>
<circle cx="57.70" cy="536.60" r="2.0" fill="#111"/>
<circle cx="64.20" cy="536.60" r="2.0" fill="#111"/>
<line x1="83.20" y1="559.60" x2="83.20" y2="566.60" stroke="#111" stroke-width="1.0"/>
<line x1="77.60" y1="559.60" x2="88.80" y2="559.60" stroke="#111" stroke-width="1.0"/>
<line x1="80.00" y1="566.60" x2="86.40" y2="566.60" stroke="#111" stroke-width="1.0"/>
<rect x="77.40" y="557.70" width="3.60" height="3.60" fill="#111"/>
<rect x="85.60" y="557.70" width="3.60" height="3.60" fill="#111"/>
<rect x="81.40" y="567.50" width="3.60" height="3.60" fill="#111"/>
<path d="M58.2 528.2 V521.2 H83.5 V528.2" stroke="#111" stroke-width="1.0" fill="none"/>
<text x="69.6" y="520.95" font-size="10.2" text-anchor="middle" fill="#111" stroke="#111" stroke-width="0.3">**</text>
<text x="21.4" y="609.6" font-size="9.8" textLength="61.5" lengthAdjust="spacingAndGlyphs" transform="rotate(-90 21.4 609.6)" fill="#1c1c1c" stroke="#1c1c1c" stroke-width="0.1">Relative CD34 MFI</text>
<text x="60.0" y="640.6" font-size="8.2" text-anchor="end" textLength="33.6" lengthAdjust="spacingAndGlyphs" transform="rotate(-45 60.0 640.6)" fill="#1a1a1a" stroke="#1a1a1a">sgControl</text>
<text x="87.8" y="640.6" font-size="8.2" text-anchor="end" textLength="31.0" lengthAdjust="spacingAndGlyphs" transform="rotate(-45 87.8 640.6)" fill="#1a1a1a" stroke="#1a1a1a">sgFIP1L1</text>
<line x1="40.6" y1="343.2" x2="40.6" y2="485.15" stroke="#111" stroke-width="1.5"/>
<line x1="39.85" y1="484.4" x2="180.8" y2="484.4" stroke="#111" stroke-width="1.5"/>
<line x1="37.4" y1="484.40" x2="40.6" y2="484.40" stroke="#111" stroke-width="1.0"/>
<text x="34.8" y="487.1" font-size="8" text-anchor="end" fill="#1a1a1a" stroke="#1a1a1a">0</text>
<line x1="37.4" y1="449.25" x2="40.6" y2="449.25" stroke="#111" stroke-width="1.0"/>
<text x="34.8" y="451.95" font-size="8" text-anchor="end" fill="#1a1a1a" stroke="#1a1a1a">1</text>
<line x1="37.4" y1="414.10" x2="40.6" y2="414.10" stroke="#111" stroke-width="1.0"/>
<text x="34.8" y="416.8" font-size="8" text-anchor="end" fill="#1a1a1a" stroke="#1a1a1a">2</text>
<line x1="37.4" y1="378.95" x2="40.6" y2="378.95" stroke="#111" stroke-width="1.0"/>
<text x="34.8" y="381.65" font-size="8" text-anchor="end" fill="#1a1a1a" stroke="#1a1a1a">3</text>
<line x1="37.4" y1="343.80" x2="40.6" y2="343.80" stroke="#111" stroke-width="1.0"/>
<text x="34.8" y="346.5" font-size="8" text-anchor="end" fill="#1a1a1a" stroke="#1a1a1a">4</text>
<line x1="54.7" y1="484.4" x2="54.7" y2="487.2" stroke="#111" stroke-width="1.0"/>
<text x="54.7" y="495.0" font-size="8" text-anchor="middle" fill="#1a1a1a" stroke="#1a1a1a">Day 0</text>
<line x1="82.9" y1="484.4" x2="82.9" y2="487.2" stroke="#111" stroke-width="1.0"/>
<text x="82.9" y="495.0" font-size="8" text-anchor="middle" fill="#1a1a1a" stroke="#1a1a1a">Day 2</text>
<line x1="111.0" y1="484.4" x2="111.0" y2="487.2" stroke="#111" stroke-width="1.0"/>
<text x="111.0" y="495.0" font-size="8" text-anchor="middle" fill="#1a1a1a" stroke="#1a1a1a">Day 4</text>
<line x1="139.2" y1="484.4" x2="139.2" y2="487.2" stroke="#111" stroke-width="1.0"/>
<text x="139.2" y="495.0" font-size="8" text-anchor="middle" fill="#1a1a1a" stroke="#1a1a1a">Day 6</text>
<line x1="167.3" y1="484.4" x2="167.3" y2="487.2" stroke="#111" stroke-width="1.0"/>
<text x="167.3" y="495.0" font-size="8" text-anchor="middle" fill="#1a1a1a" stroke="#1a1a1a">Day 8</text>
<path d="M54.7 477.37 L82.9 475.26 L111.0 473.50 L139.2 470.69 L167.3 469.64" stroke="#5c2a70" stroke-width="1.5" fill="none" stroke-linejoin="round"/>
<circle cx="54.70" cy="477.37" r="1.7" fill="#5c2a70"/>
<circle cx="82.90" cy="475.26" r="1.7" fill="#5c2a70"/>
<circle cx="111.00" cy="473.50" r="1.7" fill="#5c2a70"/>
<circle cx="139.20" cy="470.69" r="1.7" fill="#5c2a70"/>
<circle cx="167.30" cy="469.64" r="1.7" fill="#5c2a70"/>
<path d="M54.7 477.37 L82.9 472.80 L111.0 471.39 L139.2 472.10 L167.3 469.29" stroke="#14568a" stroke-width="1.5" fill="none" stroke-linejoin="round"/>
<rect x="53.20" y="475.87" width="3.00" height="3.00" fill="#14568a"/>
<rect x="81.40" y="471.30" width="3.00" height="3.00" fill="#14568a"/>
<line x1="111.00" y1="469.64" x2="111.00" y2="473.15" stroke="#14568a" stroke-width="1.15"/>
<line x1="109.10" y1="469.64" x2="112.90" y2="469.64" stroke="#14568a" stroke-width="1.15"/>
<line x1="109.10" y1="473.15" x2="112.90" y2="473.15" stroke="#14568a" stroke-width="1.15"/>
<rect x="109.50" y="469.89" width="3.00" height="3.00" fill="#14568a"/>
<line x1="139.20" y1="470.69" x2="139.20" y2="473.50" stroke="#14568a" stroke-width="1.15"/>
<line x1="137.30" y1="470.69" x2="141.10" y2="470.69" stroke="#14568a" stroke-width="1.15"/>
<line x1="137.30" y1="473.50" x2="141.10" y2="473.50" stroke="#14568a" stroke-width="1.15"/>
<rect x="137.70" y="470.60" width="3.00" height="3.00" fill="#14568a"/>
<line x1="167.30" y1="467.53" x2="167.30" y2="471.04" stroke="#14568a" stroke-width="1.15"/>
<line x1="165.40" y1="467.53" x2="169.20" y2="467.53" stroke="#14568a" stroke-width="1.15"/>
<line x1="165.40" y1="471.04" x2="169.20" y2="471.04" stroke="#14568a" stroke-width="1.15"/>
<rect x="165.80" y="467.79" width="3.00" height="3.00" fill="#14568a"/>
<path d="M54.7 477.37 L82.9 472.80 L111.0 464.01 L139.2 453.47 L167.3 445.73" stroke="#3bb54a" stroke-width="1.5" fill="none" stroke-linejoin="round"/>
<rect x="53.20" y="475.87" width="3.00" height="3.00" fill="#3bb54a"/>
<rect x="81.40" y="471.30" width="3.00" height="3.00" fill="#3bb54a"/>
<line x1="111.00" y1="461.55" x2="111.00" y2="466.47" stroke="#3bb54a" stroke-width="1.15"/>
<line x1="109.10" y1="461.55" x2="112.90" y2="461.55" stroke="#3bb54a" stroke-width="1.15"/>
<line x1="109.10" y1="466.47" x2="112.90" y2="466.47" stroke="#3bb54a" stroke-width="1.15"/>
<rect x="109.50" y="462.51" width="3.00" height="3.00" fill="#3bb54a"/>
<rect x="137.70" y="451.97" width="3.00" height="3.00" fill="#3bb54a"/>
<rect x="165.80" y="444.23" width="3.00" height="3.00" fill="#3bb54a"/>
<path d="M54.7 477.37 L82.9 468.23 L111.0 449.95 L139.2 416.56 L167.3 383.17" stroke="#c8102e" stroke-width="1.5" fill="none" stroke-linejoin="round"/>
<rect x="53.20" y="475.87" width="3.00" height="3.00" fill="#c8102e"/>
<line x1="82.90" y1="466.47" x2="82.90" y2="469.99" stroke="#c8102e" stroke-width="1.15"/>
<line x1="81.00" y1="466.47" x2="84.80" y2="466.47" stroke="#c8102e" stroke-width="1.15"/>
<line x1="81.00" y1="469.99" x2="84.80" y2="469.99" stroke="#c8102e" stroke-width="1.15"/>
<rect x="81.40" y="466.73" width="3.00" height="3.00" fill="#c8102e"/>
<line x1="111.00" y1="446.09" x2="111.00" y2="453.82" stroke="#c8102e" stroke-width="1.15"/>
<line x1="109.10" y1="446.09" x2="112.90" y2="446.09" stroke="#c8102e" stroke-width="1.15"/>
<line x1="109.10" y1="453.82" x2="112.90" y2="453.82" stroke="#c8102e" stroke-width="1.15"/>
<rect x="109.50" y="448.45" width="3.00" height="3.00" fill="#c8102e"/>
<line x1="139.20" y1="409.18" x2="139.20" y2="423.94" stroke="#c8102e" stroke-width="1.15"/>
<line x1="137.30" y1="409.18" x2="141.10" y2="409.18" stroke="#c8102e" stroke-width="1.15"/>
<line x1="137.30" y1="423.94" x2="141.10" y2="423.94" stroke="#c8102e" stroke-width="1.15"/>
<rect x="137.70" y="415.06" width="3.00" height="3.00" fill="#c8102e"/>
<line x1="167.30" y1="369.11" x2="167.30" y2="397.23" stroke="#c8102e" stroke-width="1.15"/>
<line x1="165.40" y1="369.11" x2="169.20" y2="369.11" stroke="#c8102e" stroke-width="1.15"/>
<line x1="165.40" y1="397.23" x2="169.20" y2="397.23" stroke="#c8102e" stroke-width="1.15"/>
<rect x="165.80" y="381.67" width="3.00" height="3.00" fill="#c8102e"/>
<text x="108.6" y="436.85" font-size="10.2" text-anchor="middle" fill="#111" stroke="#111" stroke-width="0.3">**</text>
<text x="135.5" y="400.75" font-size="10.2" text-anchor="middle" fill="#111" stroke="#111" stroke-width="0.3">***</text>
<text x="164.2" y="364.15000000000003" font-size="10.2" text-anchor="middle" fill="#111" stroke="#111" stroke-width="0.3">***</text>
<line x1="50.0" y1="355.40" x2="60.0" y2="355.40" stroke="#c8102e" stroke-width="1.1"/>
<circle cx="55.10" cy="355.40" r="1.5" fill="#c8102e"/>
<text x="62.8" y="357.0" font-size="7.7" textLength="31" lengthAdjust="spacingAndGlyphs" fill="#1a1a1a" stroke="#1a1a1a">shControl</text>
<line x1="50.0" y1="368.85" x2="60.0" y2="368.85" stroke="#14568a" stroke-width="1.1"/>
<circle cx="55.10" cy="368.85" r="1.5" fill="#14568a"/>
<text x="62.8" y="370.45" font-size="7.7" textLength="39.5" lengthAdjust="spacingAndGlyphs" fill="#1a1a1a" stroke="#1a1a1a">shFIP1L1 (1)</text>
<line x1="50.0" y1="382.30" x2="60.0" y2="382.30" stroke="#3bb54a" stroke-width="1.1"/>
<circle cx="55.10" cy="382.30" r="1.5" fill="#3bb54a"/>
<text x="62.8" y="383.9" font-size="7.7" textLength="39.5" lengthAdjust="spacingAndGlyphs" fill="#1a1a1a" stroke="#1a1a1a">shFIP1L1 (2)</text>
<line x1="50.0" y1="395.75" x2="60.0" y2="395.75" stroke="#5c2a70" stroke-width="1.1"/>
<circle cx="55.10" cy="395.75" r="1.5" fill="#5c2a70"/>
<text x="62.8" y="397.35" font-size="7.7" textLength="39.5" lengthAdjust="spacingAndGlyphs" fill="#1a1a1a" stroke="#1a1a1a">shFIP1L1 (3)</text>
<text x="24.4" y="446.2" font-size="9.4" textLength="56.4" lengthAdjust="spacingAndGlyphs" transform="rotate(-90 24.4 446.2)" fill="#1c1c1c" stroke="#1c1c1c" stroke-width="0.1">Cell number (x10</text>
<text x="20.4" y="389.4" font-size="5.0" transform="rotate(-90 20.4 389.4)" fill="#1c1c1c" stroke="#1c1c1c" stroke-width="0.1">5</text>
<text x="24.4" y="386.6" font-size="9.4" transform="rotate(-90 24.4 386.6)" fill="#1c1c1c" stroke="#1c1c1c" stroke-width="0.1">)</text>
<rect x="157.30" y="628.88" width="5.60" height="14.32" fill="#c8102e"/>
<rect x="166.80" y="617.14" width="5.50" height="26.06" fill="#14568a"/>
<line x1="158.20000000000002" y1="628.68" x2="162.0" y2="628.68" stroke="#111" stroke-width="3.0" stroke-linecap="round"/>
<circle cx="169.65" cy="615.13" r="1.6" fill="#111"/>
<circle cx="171.05" cy="616.42" r="1.6" fill="#111"/>
<circle cx="168.65" cy="618.00" r="1.6" fill="#111"/>
<path d="M159.6 608.8 V605.6 H169.8 V608.8" stroke="#111" stroke-width="0.95" fill="none"/>
<text x="164.7" y="606.35" font-size="8.6" text-anchor="middle" fill="#111" stroke="#111" stroke-width="0.3">**</text>
<line x1="164.70" y1="643.2" x2="164.70" y2="646.6" stroke="#111" stroke-width="1.0"/>
<text x="168.2" y="652.2" font-size="7.8" text-anchor="end" transform="rotate(-45 168.2 652.2)" fill="#1a1a1a" stroke="#1a1a1a">CSF2RA</text>
<rect x="182.40" y="628.88" width="5.60" height="14.32" fill="#c8102e"/>
<rect x="191.90" y="600.24" width="5.50" height="42.96" fill="#14568a"/>
<line x1="194.65" y1="592.36" x2="194.65" y2="607.54" stroke="#111" stroke-width="0.9"/>
<line x1="193.05" y1="592.36" x2="196.25" y2="592.36" stroke="#111" stroke-width="0.9"/>
<line x1="193.05" y1="607.54" x2="196.25" y2="607.54" stroke="#111" stroke-width="0.9"/>
<line x1="183.3" y1="628.68" x2="187.1" y2="628.68" stroke="#111" stroke-width="3.0" stroke-linecap="round"/>
<circle cx="194.65" cy="592.36" r="1.6" fill="#111"/>
<circle cx="194.65" cy="598.52" r="1.6" fill="#111"/>
<circle cx="194.65" cy="607.54" r="1.6" fill="#111"/>
<path d="M184.7 584.8 V581.6 H194.9 V584.8" stroke="#111" stroke-width="0.95" fill="none"/>
<text x="189.8" y="582.35" font-size="8.6" text-anchor="middle" fill="#111" stroke="#111" stroke-width="0.3">**</text>
<line x1="189.80" y1="643.2" x2="189.80" y2="646.6" stroke="#111" stroke-width="1.0"/>
<text x="193.3" y="652.2" font-size="7.8" text-anchor="end" transform="rotate(-45 193.3 652.2)" fill="#1a1a1a" stroke="#1a1a1a">ITGAM</text>
<rect x="207.10" y="628.88" width="5.60" height="14.32" fill="#c8102e"/>
<rect x="216.60" y="605.97" width="5.50" height="37.23" fill="#14568a"/>
<line x1="208.0" y1="628.68" x2="211.79999999999998" y2="628.68" stroke="#111" stroke-width="3.0" stroke-linecap="round"/>
<circle cx="219.45" cy="604.82" r="1.6" fill="#111"/>
<circle cx="220.85" cy="605.32" r="1.6" fill="#111"/>
<circle cx="218.45" cy="606.11" r="1.6" fill="#111"/>
<path d="M209.4 596.7 V593.5 H219.6 V596.7" stroke="#111" stroke-width="0.95" fill="none"/>
<text x="214.5" y="594.25" font-size="8.6" text-anchor="middle" fill="#111" stroke="#111" stroke-width="0.3">***</text>
<line x1="214.50" y1="643.2" x2="214.50" y2="646.6" stroke="#111" stroke-width="1.0"/>
<text x="218.0" y="652.2" font-size="7.8" text-anchor="end" transform="rotate(-45 218.0 652.2)" fill="#1a1a1a" stroke="#1a1a1a">LYZ</text>
<rect x="232.00" y="628.88" width="5.60" height="14.32" fill="#c8102e"/>
<rect x="241.50" y="610.26" width="5.50" height="32.94" fill="#14568a"/>
<line x1="244.25" y1="603.82" x2="244.25" y2="616.71" stroke="#111" stroke-width="0.9"/>
<line x1="242.65" y1="603.82" x2="245.85" y2="603.82" stroke="#111" stroke-width="0.9"/>
<line x1="242.65" y1="616.71" x2="245.85" y2="616.71" stroke="#111" stroke-width="0.9"/>
<line x1="232.9" y1="628.68" x2="236.7" y2="628.68" stroke="#111" stroke-width="3.0" stroke-linecap="round"/>
<circle cx="244.25" cy="603.82" r="1.6" fill="#111"/>
<circle cx="244.25" cy="608.83" r="1.6" fill="#111"/>
<circle cx="244.25" cy="616.71" r="1.6" fill="#111"/>
<path d="M234.3 596.8 V593.6 H244.5 V596.8" stroke="#111" stroke-width="0.95" fill="none"/>
<text x="239.4" y="594.35" font-size="8.6" text-anchor="middle" fill="#111" stroke="#111" stroke-width="0.3">**</text>
<line x1="239.40" y1="643.2" x2="239.40" y2="646.6" stroke="#111" stroke-width="1.0"/>
<text x="242.9" y="652.2" font-size="7.8" text-anchor="end" transform="rotate(-45 242.9 652.2)" fill="#1a1a1a" stroke="#1a1a1a">LST1</text>
<rect x="256.80" y="628.88" width="5.60" height="14.32" fill="#c8102e"/>
<rect x="266.30" y="614.56" width="5.50" height="28.64" fill="#14568a"/>
<line x1="257.7" y1="628.68" x2="261.5" y2="628.68" stroke="#111" stroke-width="3.0" stroke-linecap="round"/>
<circle cx="269.15" cy="612.70" r="1.6" fill="#111"/>
<circle cx="270.55" cy="614.27" r="1.6" fill="#111"/>
<circle cx="268.15" cy="616.14" r="1.6" fill="#111"/>
<path d="M259.1 602.4 V599.2 H269.3 V602.4" stroke="#111" stroke-width="0.95" fill="none"/>
<text x="264.2" y="599.95" font-size="8.6" text-anchor="middle" fill="#111" stroke="#111" stroke-width="0.3">**</text>
<line x1="264.20" y1="643.2" x2="264.20" y2="646.6" stroke="#111" stroke-width="1.0"/>
<text x="267.7" y="652.2" font-size="7.8" text-anchor="end" transform="rotate(-45 267.7 652.2)" fill="#1a1a1a" stroke="#1a1a1a">SIRPA</text>
<rect x="281.70" y="628.88" width="5.60" height="14.32" fill="#c8102e"/>
<rect x="291.20" y="563.72" width="5.50" height="79.48" fill="#14568a"/>
<line x1="293.95" y1="534.37" x2="293.95" y2="596.23" stroke="#111" stroke-width="0.9"/>
<line x1="292.35" y1="534.37" x2="295.55" y2="534.37" stroke="#111" stroke-width="0.9"/>
<line x1="292.35" y1="596.23" x2="295.55" y2="596.23" stroke="#111" stroke-width="0.9"/>
<line x1="282.59999999999997" y1="628.68" x2="286.4" y2="628.68" stroke="#111" stroke-width="3.0" stroke-linecap="round"/>
<circle cx="294.05" cy="545.11" r="1.6" fill="#111"/>
<circle cx="295.05" cy="547.26" r="1.6" fill="#111"/>
<circle cx="293.95" cy="591.65" r="1.6" fill="#111"/>
<circle cx="293.95" cy="595.08" r="1.6" fill="#111"/>
<path d="M283.0 527.5 V524.3 H293.2 V527.5" stroke="#111" stroke-width="0.95" fill="none"/>
<text x="288.1" y="525.05" font-size="8.6" text-anchor="middle" fill="#111" stroke="#111" stroke-width="0.3">*</text>
<line x1="289.10" y1="643.2" x2="289.10" y2="646.6" stroke="#111" stroke-width="1.0"/>
<text x="292.6" y="652.2" font-size="7.8" text-anchor="end" transform="rotate(-45 292.6 652.2)" fill="#1a1a1a" stroke="#1a1a1a">TYROBP</text>
<line x1="153.8" y1="528.0" x2="153.8" y2="643.95" stroke="#111" stroke-width="1.5"/>
<line x1="153.05" y1="643.2" x2="300.8" y2="643.2" stroke="#111" stroke-width="1.5"/>
<line x1="150.60000000000002" y1="643.20" x2="153.8" y2="643.20" stroke="#111" stroke-width="1.0"/>
<text x="148.3" y="646.2" font-size="8.4" text-anchor="end" fill="#1a1a1a" stroke="#1a1a1a">0</text>
<line x1="150.60000000000002" y1="614.56" x2="153.8" y2="614.56" stroke="#111" stroke-width="1.0"/>
<text x="148.3" y="617.56" font-size="8.4" text-anchor="end" fill="#1a1a1a" stroke="#1a1a1a">2</text>
<line x1="150.60000000000002" y1="585.92" x2="153.8" y2="585.92" stroke="#111" stroke-width="1.0"/>
<text x="148.3" y="588.92" font-size="8.4" text-anchor="end" fill="#1a1a1a" stroke="#1a1a1a">4</text>
<line x1="150.60000000000002" y1="557.28" x2="153.8" y2="557.28" stroke="#111" stroke-width="1.0"/>
<text x="148.3" y="560.28" font-size="8.4" text-anchor="end" fill="#1a1a1a" stroke="#1a1a1a">6</text>
<line x1="150.60000000000002" y1="528.64" x2="153.8" y2="528.64" stroke="#111" stroke-width="1.0"/>
<text x="148.3" y="531.64" font-size="8.4" text-anchor="end" fill="#1a1a1a" stroke="#1a1a1a">8</text>
<rect x="160.40" y="533.90" width="13.00" height="4.80" fill="#c8102e"/>
<rect x="160.40" y="543.80" width="13.00" height="4.80" fill="#14568a"/>
<text x="177.6" y="538.1" font-size="7.6" textLength="32.0" lengthAdjust="spacingAndGlyphs" fill="#1a1a1a" stroke="#1a1a1a">sgControl</text>
<text x="177.6" y="548.2" font-size="7.6" textLength="29.4" lengthAdjust="spacingAndGlyphs" fill="#1a1a1a" stroke="#1a1a1a">sgFIP1L1</text>
<text x="138.8" y="630.2" font-size="9.0" textLength="86.6" lengthAdjust="spacingAndGlyphs" transform="rotate(-90 138.8 630.2)" fill="#1c1c1c" stroke="#1c1c1c" stroke-width="0.1">Relative mRNA expression</text>
<rect x="357.30" y="539.20" width="7.50" height="107.70" fill="#c8102e"/>
<rect x="370.50" y="557.83" width="7.30" height="89.07" fill="#14568a"/>
<line x1="373.70" y1="550.19" x2="373.70" y2="564.19" stroke="#111" stroke-width="0.9"/>
<line x1="371.70" y1="550.19" x2="375.70" y2="550.19" stroke="#111" stroke-width="0.9"/>
<line x1="371.70" y1="564.19" x2="375.70" y2="564.19" stroke="#111" stroke-width="0.9"/>
<line x1="358.3" y1="539.1999999999999" x2="363.8" y2="539.1999999999999" stroke="#111" stroke-width="3.2" stroke-linecap="round"/>
<circle cx="373.70" cy="550.19" r="1.6" fill="#111"/>
<circle cx="373.70" cy="558.37" r="1.6" fill="#111"/>
<circle cx="373.70" cy="564.19" r="1.6" fill="#111"/>
<path d="M362.3 529.6 V526 H373.6 V529.6" stroke="#111" stroke-width="0.95" fill="none"/>
<text x="368.0" y="526.65" font-size="8.6" text-anchor="middle" fill="#111" stroke="#111" stroke-width="0.3">*</text>
<line x1="367.40" y1="646.9" x2="367.40" y2="650.3" stroke="#111" stroke-width="1.0"/>
<text x="372.2" y="656.6" font-size="7.8" text-anchor="end" transform="rotate(-45 372.2 656.6)" fill="#1a1a1a" stroke="#1a1a1a">BCAT1</text>
<rect x="391.20" y="539.20" width="7.50" height="107.70" fill="#c8102e"/>
<rect x="404.40" y="608.67" width="7.30" height="38.23" fill="#14568a"/>
<line x1="407.60" y1="604.90" x2="407.60" y2="612.44" stroke="#111" stroke-width="0.9"/>
<line x1="405.60" y1="604.90" x2="409.60" y2="604.90" stroke="#111" stroke-width="0.9"/>
<line x1="405.60" y1="612.44" x2="409.60" y2="612.44" stroke="#111" stroke-width="0.9"/>
<line x1="392.2" y1="539.1999999999999" x2="397.7" y2="539.1999999999999" stroke="#111" stroke-width="3.2" stroke-linecap="round"/>
<circle cx="404.90" cy="606.19" r="1.6" fill="#111"/>
<circle cx="410.30" cy="606.19" r="1.6" fill="#111"/>
<circle cx="407.60" cy="612.22" r="1.6" fill="#111"/>
<path d="M392.6 529.6 V526 H403.9 V529.6" stroke="#111" stroke-width="0.95" fill="none"/>
<text x="398.2" y="526.65" font-size="8.6" text-anchor="middle" fill="#111" stroke="#111" stroke-width="0.3">***</text>
<line x1="401.30" y1="646.9" x2="401.30" y2="650.3" stroke="#111" stroke-width="1.0"/>
<text x="406.1" y="656.6" font-size="7.8" text-anchor="end" transform="rotate(-45 406.1 656.6)" fill="#1a1a1a" stroke="#1a1a1a">CBX5</text>
<rect x="425.30" y="539.20" width="7.50" height="107.70" fill="#c8102e"/>
<rect x="438.50" y="571.40" width="7.30" height="75.50" fill="#14568a"/>
<line x1="441.70" y1="562.89" x2="441.70" y2="576.36" stroke="#111" stroke-width="0.9"/>
<line x1="439.70" y1="562.89" x2="443.70" y2="562.89" stroke="#111" stroke-width="0.9"/>
<line x1="439.70" y1="576.36" x2="443.70" y2="576.36" stroke="#111" stroke-width="0.9"/>
<line x1="426.3" y1="539.1999999999999" x2="431.8" y2="539.1999999999999" stroke="#111" stroke-width="3.2" stroke-linecap="round"/>
<path d="M441.70 560.82 L443.50 564.42 L439.90 564.42 Z" fill="#111"/>
<path d="M439.80 571.71 L443.60 571.71 L441.70 574.51 Z" fill="#111"/>
<path d="M441.70 574.52 L443.50 578.12 L439.90 578.12 Z" fill="#111"/>
<path d="M429.5 529.6 V526 H440.8 V529.6" stroke="#111" stroke-width="0.95" fill="none"/>
<text x="435.1" y="526.65" font-size="8.6" text-anchor="middle" fill="#111" stroke="#111" stroke-width="0.3">**</text>
<line x1="435.40" y1="646.9" x2="435.40" y2="650.3" stroke="#111" stroke-width="1.0"/>
<text x="440.2" y="656.6" font-size="7.8" text-anchor="end" transform="rotate(-45 440.2 656.6)" fill="#1a1a1a" stroke="#1a1a1a">NPR3</text>
<line x1="352.4" y1="528.2" x2="352.4" y2="647.65" stroke="#111" stroke-width="1.3"/>
<line x1="351.75" y1="646.9" x2="450.9" y2="646.9" stroke="#111" stroke-width="1.3"/>
<line x1="349.20" y1="646.90" x2="352.4" y2="646.90" stroke="#111" stroke-width="0.8"/>
<line x1="350.70" y1="641.51" x2="352.4" y2="641.51" stroke="#111" stroke-width="0.8"/>
<line x1="350.70" y1="636.13" x2="352.4" y2="636.13" stroke="#111" stroke-width="0.8"/>
<line x1="350.70" y1="630.75" x2="352.4" y2="630.75" stroke="#111" stroke-width="0.8"/>
<line x1="350.70" y1="625.36" x2="352.4" y2="625.36" stroke="#111" stroke-width="0.8"/>
<line x1="350.70" y1="619.98" x2="352.4" y2="619.98" stroke="#111" stroke-width="0.8"/>
<line x1="350.70" y1="614.59" x2="352.4" y2="614.59" stroke="#111" stroke-width="0.8"/>
<line x1="350.70" y1="609.20" x2="352.4" y2="609.20" stroke="#111" stroke-width="0.8"/>
<line x1="350.70" y1="603.82" x2="352.4" y2="603.82" stroke="#111" stroke-width="0.8"/>
<line x1="350.70" y1="598.43" x2="352.4" y2="598.43" stroke="#111" stroke-width="0.8"/>
<line x1="349.20" y1="593.05" x2="352.4" y2="593.05" stroke="#111" stroke-width="0.8"/>
<line x1="350.70" y1="587.66" x2="352.4" y2="587.66" stroke="#111" stroke-width="0.8"/>
<line x1="350.70" y1="582.28" x2="352.4" y2="582.28" stroke="#111" stroke-width="0.8"/>
<line x1="350.70" y1="576.89" x2="352.4" y2="576.89" stroke="#111" stroke-width="0.8"/>
<line x1="350.70" y1="571.51" x2="352.4" y2="571.51" stroke="#111" stroke-width="0.8"/>
<line x1="350.70" y1="566.12" x2="352.4" y2="566.12" stroke="#111" stroke-width="0.8"/>
<line x1="350.70" y1="560.74" x2="352.4" y2="560.74" stroke="#111" stroke-width="0.8"/>
<line x1="350.70" y1="555.36" x2="352.4" y2="555.36" stroke="#111" stroke-width="0.8"/>
<line x1="350.70" y1="549.97" x2="352.4" y2="549.97" stroke="#111" stroke-width="0.8"/>
<line x1="350.70" y1="544.58" x2="352.4" y2="544.58" stroke="#111" stroke-width="0.8"/>
<line x1="349.20" y1="539.20" x2="352.4" y2="539.20" stroke="#111" stroke-width="0.8"/>
<line x1="350.70" y1="533.81" x2="352.4" y2="533.81" stroke="#111" stroke-width="0.8"/>
<line x1="350.70" y1="528.43" x2="352.4" y2="528.43" stroke="#111" stroke-width="0.8"/>
<text x="347.8" y="542.0" font-size="8" text-anchor="end" textLength="10.8" lengthAdjust="spacingAndGlyphs" fill="#1a1a1a" stroke="#1a1a1a">1.0</text>
<text x="347.8" y="595.85" font-size="8" text-anchor="end" textLength="10.8" lengthAdjust="spacingAndGlyphs" fill="#1a1a1a" stroke="#1a1a1a">0.5</text>
<text x="347.8" y="649.7" font-size="8" text-anchor="end" textLength="10.8" lengthAdjust="spacingAndGlyphs" fill="#1a1a1a" stroke="#1a1a1a">0.0</text>
<rect x="456.90" y="581.20" width="12.60" height="5.00" fill="#c8102e"/>
<rect x="456.90" y="591.30" width="12.60" height="5.00" fill="#14568a"/>
<text x="472.9" y="585.8" font-size="7.6" textLength="31.8" lengthAdjust="spacingAndGlyphs" fill="#1a1a1a" stroke="#1a1a1a">sgControl</text>
<text x="472.9" y="596.5" font-size="7.6" textLength="29.2" lengthAdjust="spacingAndGlyphs" fill="#1a1a1a" stroke="#1a1a1a">sgFIP1L1</text>
<text x="331.0" y="632.8" font-size="9.0" textLength="86.8" lengthAdjust="spacingAndGlyphs" transform="rotate(-90 331.0 632.8)" fill="#1c1c1c" stroke="#1c1c1c" stroke-width="0.1">Relative mRNA expression</text>
</svg>
</body></html>
